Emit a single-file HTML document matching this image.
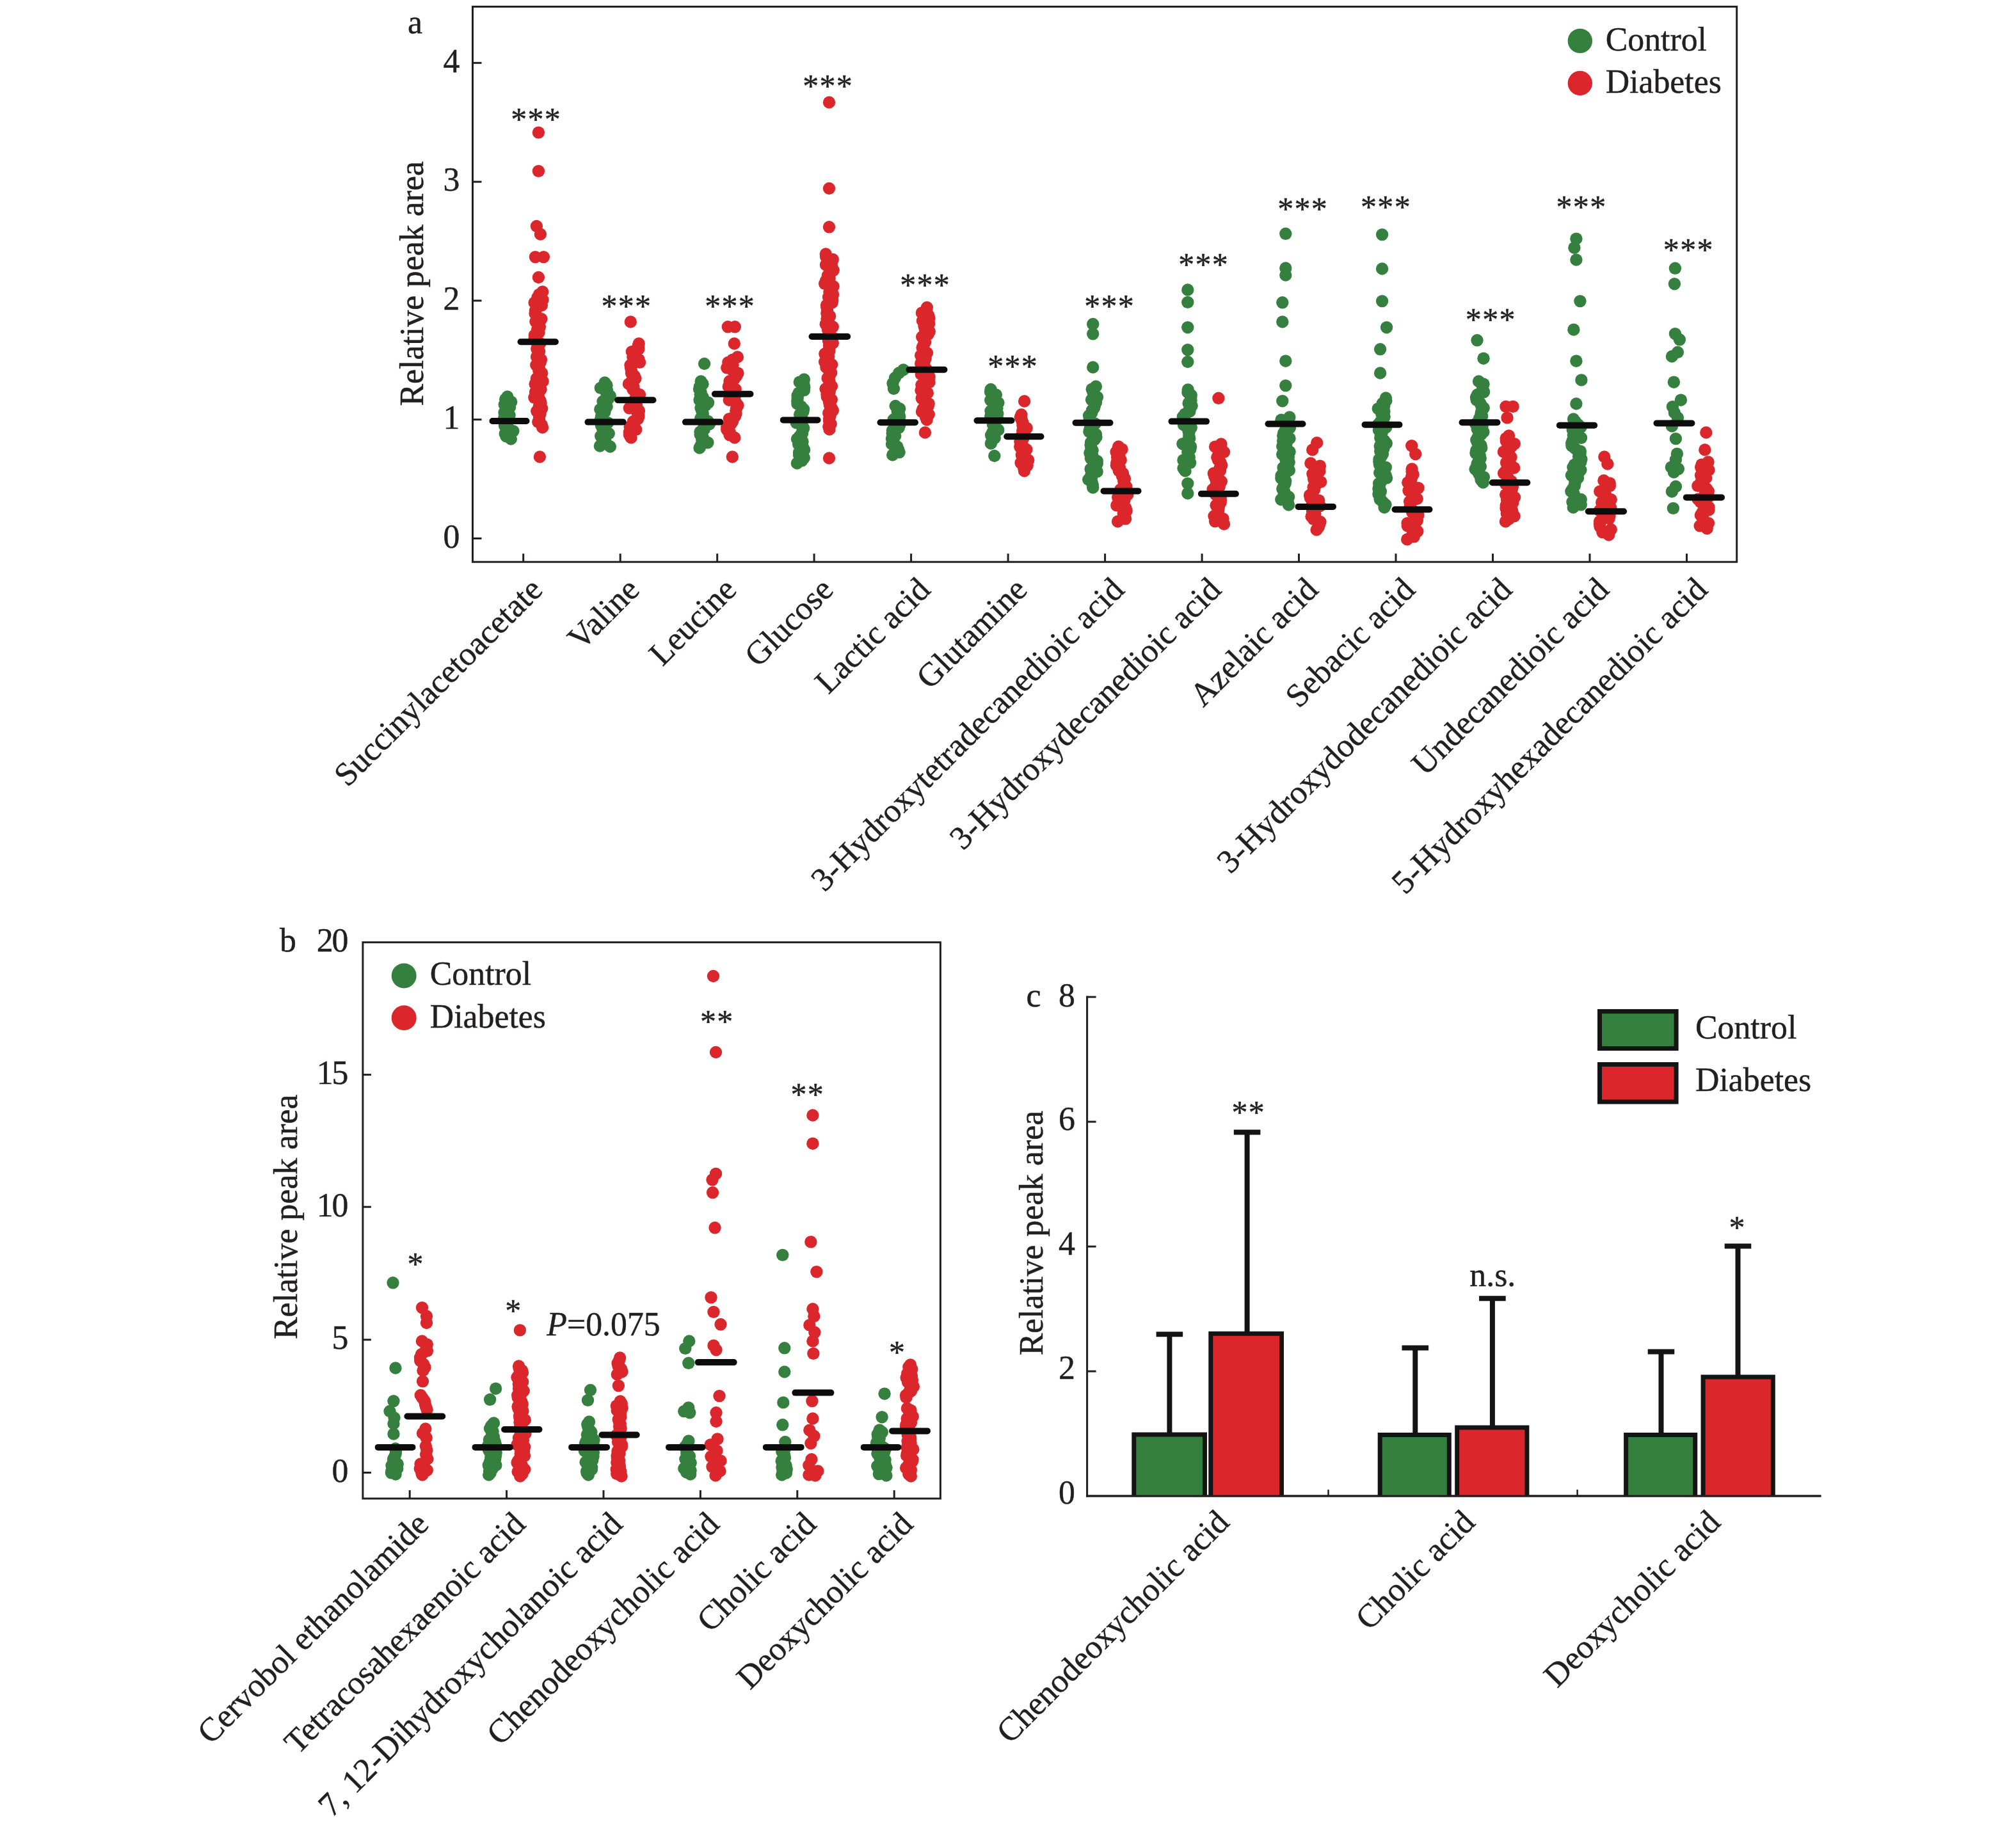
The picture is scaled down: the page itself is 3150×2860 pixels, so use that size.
<!DOCTYPE html>
<html><head><meta charset="utf-8"><title>Figure</title>
<style>
html,body{margin:0;padding:0;background:#fff;}
svg{display:block;}
text{font-family:"Liberation Serif","Times New Roman",serif;fill:#231f20;stroke:#231f20;stroke-width:0.45px;}
</style></head><body>
<svg width="3150" height="2860" viewBox="0 0 3150 2860">
<rect width="3150" height="2860" fill="#fff"/>
<rect x="738.5" y="10.4" width="1975.1999999999998" height="867.8000000000001" fill="none" stroke="#231f20" stroke-width="3"/>
<line x1="738.5" y1="841.5" x2="752.5" y2="841.5" stroke="#231f20" stroke-width="3"/>
<text x="718.5" y="855.7" text-anchor="end" font-size="51.8">0</text>
<line x1="738.5" y1="655.7" x2="752.5" y2="655.7" stroke="#231f20" stroke-width="3"/>
<text x="718.5" y="669.9" text-anchor="end" font-size="51.8">1</text>
<line x1="738.5" y1="469.9" x2="752.5" y2="469.9" stroke="#231f20" stroke-width="3"/>
<text x="718.5" y="484.1" text-anchor="end" font-size="51.8">2</text>
<line x1="738.5" y1="284.1" x2="752.5" y2="284.1" stroke="#231f20" stroke-width="3"/>
<text x="718.5" y="298.3" text-anchor="end" font-size="51.8">3</text>
<line x1="738.5" y1="98.3" x2="752.5" y2="98.3" stroke="#231f20" stroke-width="3"/>
<text x="718.5" y="112.5" text-anchor="end" font-size="51.8">4</text>
<line x1="817.7" y1="878.2" x2="817.7" y2="865.2" stroke="#231f20" stroke-width="3"/>
<line x1="969.2" y1="878.2" x2="969.2" y2="865.2" stroke="#231f20" stroke-width="3"/>
<line x1="1120.7" y1="878.2" x2="1120.7" y2="865.2" stroke="#231f20" stroke-width="3"/>
<line x1="1272.1" y1="878.2" x2="1272.1" y2="865.2" stroke="#231f20" stroke-width="3"/>
<line x1="1423.6" y1="878.2" x2="1423.6" y2="865.2" stroke="#231f20" stroke-width="3"/>
<line x1="1575.1" y1="878.2" x2="1575.1" y2="865.2" stroke="#231f20" stroke-width="3"/>
<line x1="1726.6" y1="878.2" x2="1726.6" y2="865.2" stroke="#231f20" stroke-width="3"/>
<line x1="1878.1" y1="878.2" x2="1878.1" y2="865.2" stroke="#231f20" stroke-width="3"/>
<line x1="2029.5" y1="878.2" x2="2029.5" y2="865.2" stroke="#231f20" stroke-width="3"/>
<line x1="2181.0" y1="878.2" x2="2181.0" y2="865.2" stroke="#231f20" stroke-width="3"/>
<line x1="2332.5" y1="878.2" x2="2332.5" y2="865.2" stroke="#231f20" stroke-width="3"/>
<line x1="2484.0" y1="878.2" x2="2484.0" y2="865.2" stroke="#231f20" stroke-width="3"/>
<line x1="2635.5" y1="878.2" x2="2635.5" y2="865.2" stroke="#231f20" stroke-width="3"/>
<text x="637.0" y="52.0" text-anchor="start" font-size="51.8">a</text>
<text x="660.7" y="443.2" text-anchor="middle" font-size="51.8" transform="rotate(-90 660.7 443.2)">Relative peak area</text>
<text x="850.2" y="924.5" text-anchor="end" font-size="51.8" transform="rotate(-45 850.2 924.5)">Succinylacetoacetate</text>
<text x="1001.7" y="924.5" text-anchor="end" font-size="51.8" transform="rotate(-45 1001.7 924.5)">Valine</text>
<text x="1153.2" y="924.5" text-anchor="end" font-size="51.8" transform="rotate(-45 1153.2 924.5)">Leucine</text>
<text x="1304.6" y="924.5" text-anchor="end" font-size="51.8" transform="rotate(-45 1304.6 924.5)">Glucose</text>
<text x="1456.1" y="924.5" text-anchor="end" font-size="51.8" transform="rotate(-45 1456.1 924.5)">Lactic acid</text>
<text x="1607.6" y="924.5" text-anchor="end" font-size="51.8" transform="rotate(-45 1607.6 924.5)">Glutamine</text>
<text x="1759.1" y="924.5" text-anchor="end" font-size="51.8" transform="rotate(-45 1759.1 924.5)">3-Hydroxytetradecanedioic acid</text>
<text x="1910.6" y="924.5" text-anchor="end" font-size="51.8" transform="rotate(-45 1910.6 924.5)">3-Hydroxydecanedioic acid</text>
<text x="2062.0" y="924.5" text-anchor="end" font-size="51.8" transform="rotate(-45 2062.0 924.5)">Azelaic acid</text>
<text x="2213.5" y="924.5" text-anchor="end" font-size="51.8" transform="rotate(-45 2213.5 924.5)">Sebacic acid</text>
<text x="2365.0" y="924.5" text-anchor="end" font-size="51.8" transform="rotate(-45 2365.0 924.5)">3-Hydroxydodecanedioic acid</text>
<text x="2516.5" y="924.5" text-anchor="end" font-size="51.8" transform="rotate(-45 2516.5 924.5)">Undecanedioic acid</text>
<text x="2670.5" y="924.5" text-anchor="end" font-size="51.8" transform="rotate(-45 2670.5 924.5)">5-Hydroxyhexadecanedioic acid</text>
<circle cx="2468.8" cy="63.9" r="19.2" fill="#36803f"/><circle cx="2468.8" cy="130" r="19.2" fill="#db272b"/>
<text x="2508.7" y="79.4" text-anchor="start" font-size="51.8">Control</text>
<text x="2508.7" y="145.4" text-anchor="start" font-size="51.8">Diabetes</text>
<g fill="#36803f"><circle cx="792.8" cy="620.0" r="9.7"/><circle cx="789.7" cy="624.1" r="9.7"/><circle cx="798.7" cy="628.2" r="9.7"/><circle cx="788.3" cy="632.4" r="9.7"/><circle cx="796.6" cy="636.5" r="9.7"/><circle cx="793.6" cy="640.6" r="9.7"/><circle cx="788.0" cy="644.8" r="9.7"/><circle cx="796.1" cy="648.9" r="9.7"/><circle cx="787.7" cy="653.0" r="9.7"/><circle cx="794.8" cy="657.1" r="9.7"/><circle cx="788.3" cy="661.2" r="9.7"/><circle cx="788.6" cy="665.4" r="9.7"/><circle cx="794.6" cy="669.5" r="9.7"/><circle cx="801.9" cy="673.6" r="9.7"/><circle cx="789.2" cy="677.8" r="9.7"/><circle cx="791.0" cy="681.9" r="9.7"/><circle cx="798.3" cy="686.0" r="9.7"/></g>
<g fill="#db272b"><circle cx="841.4" cy="207.1" r="9.7"/><circle cx="841.4" cy="267.4" r="9.7"/><circle cx="838.4" cy="353.5" r="9.7"/><circle cx="844.4" cy="366.0" r="9.7"/><circle cx="836.4" cy="401.6" r="9.7"/><circle cx="849.4" cy="401.6" r="9.7"/><circle cx="841.4" cy="433.5" r="9.7"/><circle cx="843.4" cy="714.0" r="9.7"/><circle cx="847.7" cy="456.0" r="9.7"/><circle cx="842.5" cy="460.2" r="9.7"/><circle cx="840.0" cy="464.5" r="9.7"/><circle cx="848.1" cy="468.7" r="9.7"/><circle cx="835.1" cy="473.0" r="9.7"/><circle cx="846.4" cy="477.2" r="9.7"/><circle cx="838.5" cy="481.4" r="9.7"/><circle cx="836.4" cy="485.7" r="9.7"/><circle cx="836.0" cy="489.9" r="9.7"/><circle cx="838.7" cy="494.2" r="9.7"/><circle cx="845.8" cy="498.4" r="9.7"/><circle cx="836.9" cy="502.6" r="9.7"/><circle cx="842.5" cy="506.9" r="9.7"/><circle cx="843.3" cy="511.1" r="9.7"/><circle cx="839.6" cy="515.4" r="9.7"/><circle cx="842.1" cy="519.6" r="9.7"/><circle cx="835.3" cy="523.8" r="9.7"/><circle cx="835.2" cy="528.1" r="9.7"/><circle cx="837.3" cy="532.3" r="9.7"/><circle cx="843.9" cy="536.6" r="9.7"/><circle cx="840.4" cy="540.8" r="9.7"/><circle cx="838.8" cy="545.0" r="9.7"/><circle cx="842.6" cy="549.3" r="9.7"/><circle cx="840.7" cy="553.5" r="9.7"/><circle cx="838.6" cy="557.8" r="9.7"/><circle cx="845.5" cy="562.0" r="9.7"/><circle cx="844.2" cy="566.2" r="9.7"/><circle cx="837.8" cy="570.5" r="9.7"/><circle cx="842.4" cy="574.7" r="9.7"/><circle cx="841.8" cy="579.0" r="9.7"/><circle cx="846.7" cy="583.2" r="9.7"/><circle cx="844.6" cy="587.4" r="9.7"/><circle cx="838.4" cy="591.7" r="9.7"/><circle cx="848.1" cy="595.9" r="9.7"/><circle cx="836.1" cy="600.2" r="9.7"/><circle cx="840.3" cy="604.4" r="9.7"/><circle cx="845.0" cy="608.6" r="9.7"/><circle cx="836.5" cy="612.9" r="9.7"/><circle cx="841.2" cy="617.1" r="9.7"/><circle cx="834.9" cy="621.4" r="9.7"/><circle cx="843.8" cy="625.6" r="9.7"/><circle cx="845.1" cy="629.8" r="9.7"/><circle cx="842.4" cy="634.1" r="9.7"/><circle cx="846.7" cy="638.3" r="9.7"/><circle cx="838.8" cy="642.6" r="9.7"/><circle cx="844.1" cy="646.8" r="9.7"/><circle cx="842.7" cy="651.0" r="9.7"/><circle cx="842.5" cy="655.3" r="9.7"/><circle cx="840.8" cy="659.5" r="9.7"/><circle cx="846.2" cy="663.8" r="9.7"/><circle cx="847.6" cy="668.0" r="9.7"/></g>
<line x1="769.5" y1="658.0" x2="822.5" y2="658.0" stroke="#0c0c0c" stroke-width="10" stroke-linecap="round"/>
<line x1="813.5" y1="534.3" x2="867.9" y2="534.3" stroke="#0c0c0c" stroke-width="10" stroke-linecap="round"/>
<text x="837.6" y="203.2" text-anchor="middle" font-size="50" letter-spacing="1.3" stroke="#231f20" stroke-width="0.5">***</text>
<g fill="#36803f"><circle cx="937.4" cy="697.0" r="9.7"/><circle cx="953.4" cy="698.0" r="9.7"/><circle cx="945.0" cy="598.0" r="9.7"/><circle cx="948.0" cy="602.2" r="9.7"/><circle cx="938.4" cy="606.4" r="9.7"/><circle cx="948.6" cy="610.5" r="9.7"/><circle cx="947.8" cy="614.7" r="9.7"/><circle cx="953.3" cy="618.9" r="9.7"/><circle cx="950.6" cy="623.1" r="9.7"/><circle cx="942.0" cy="627.3" r="9.7"/><circle cx="943.6" cy="631.5" r="9.7"/><circle cx="948.1" cy="635.6" r="9.7"/><circle cx="937.8" cy="639.8" r="9.7"/><circle cx="944.8" cy="644.0" r="9.7"/><circle cx="940.1" cy="648.2" r="9.7"/><circle cx="939.3" cy="652.4" r="9.7"/><circle cx="938.3" cy="656.5" r="9.7"/><circle cx="949.7" cy="660.7" r="9.7"/><circle cx="939.5" cy="664.9" r="9.7"/><circle cx="941.4" cy="669.1" r="9.7"/><circle cx="943.7" cy="673.3" r="9.7"/><circle cx="951.3" cy="677.5" r="9.7"/><circle cx="938.7" cy="681.6" r="9.7"/><circle cx="944.6" cy="685.8" r="9.7"/><circle cx="946.2" cy="690.0" r="9.7"/></g>
<g fill="#db272b"><circle cx="985.3" cy="503.0" r="9.7"/><circle cx="998.2" cy="537.0" r="9.7"/><circle cx="997.0" cy="541.2" r="9.7"/><circle cx="997.9" cy="545.4" r="9.7"/><circle cx="987.3" cy="549.6" r="9.7"/><circle cx="989.8" cy="553.8" r="9.7"/><circle cx="988.8" cy="558.0" r="9.7"/><circle cx="998.2" cy="562.2" r="9.7"/><circle cx="999.5" cy="566.4" r="9.7"/><circle cx="985.0" cy="570.6" r="9.7"/><circle cx="985.5" cy="574.8" r="9.7"/><circle cx="986.5" cy="579.0" r="9.7"/><circle cx="986.5" cy="583.2" r="9.7"/><circle cx="991.0" cy="587.4" r="9.7"/><circle cx="992.9" cy="591.6" r="9.7"/><circle cx="987.0" cy="595.8" r="9.7"/><circle cx="982.4" cy="600.0" r="9.7"/><circle cx="989.8" cy="604.2" r="9.7"/><circle cx="988.9" cy="608.4" r="9.7"/><circle cx="992.5" cy="612.6" r="9.7"/><circle cx="999.5" cy="616.8" r="9.7"/><circle cx="994.7" cy="621.0" r="9.7"/><circle cx="991.6" cy="625.2" r="9.7"/><circle cx="993.4" cy="629.4" r="9.7"/><circle cx="994.5" cy="633.6" r="9.7"/><circle cx="983.3" cy="637.8" r="9.7"/><circle cx="998.5" cy="642.0" r="9.7"/><circle cx="996.3" cy="646.2" r="9.7"/><circle cx="998.0" cy="650.4" r="9.7"/><circle cx="996.7" cy="654.6" r="9.7"/><circle cx="989.4" cy="658.8" r="9.7"/><circle cx="989.5" cy="663.0" r="9.7"/><circle cx="984.2" cy="667.2" r="9.7"/><circle cx="993.7" cy="671.4" r="9.7"/><circle cx="983.4" cy="675.6" r="9.7"/><circle cx="983.5" cy="679.8" r="9.7"/><circle cx="986.1" cy="684.0" r="9.7"/></g>
<line x1="918.5" y1="659.6" x2="973.7" y2="659.6" stroke="#0c0c0c" stroke-width="10" stroke-linecap="round"/>
<line x1="965.2" y1="625.3" x2="1020.5" y2="625.3" stroke="#0c0c0c" stroke-width="10" stroke-linecap="round"/>
<text x="978.9" y="494.8" text-anchor="middle" font-size="50" letter-spacing="1.3" stroke="#231f20" stroke-width="0.5">***</text>
<g fill="#36803f"><circle cx="1100.6" cy="568.5" r="9.7"/><circle cx="1095.2" cy="596.0" r="9.7"/><circle cx="1098.0" cy="600.2" r="9.7"/><circle cx="1093.4" cy="604.3" r="9.7"/><circle cx="1092.6" cy="608.5" r="9.7"/><circle cx="1095.0" cy="612.6" r="9.7"/><circle cx="1094.2" cy="616.8" r="9.7"/><circle cx="1098.4" cy="621.0" r="9.7"/><circle cx="1093.0" cy="625.1" r="9.7"/><circle cx="1106.6" cy="629.3" r="9.7"/><circle cx="1102.4" cy="633.4" r="9.7"/><circle cx="1095.0" cy="637.6" r="9.7"/><circle cx="1096.6" cy="641.8" r="9.7"/><circle cx="1098.2" cy="645.9" r="9.7"/><circle cx="1098.4" cy="650.1" r="9.7"/><circle cx="1094.6" cy="654.2" r="9.7"/><circle cx="1106.2" cy="658.4" r="9.7"/><circle cx="1108.5" cy="662.6" r="9.7"/><circle cx="1100.1" cy="666.7" r="9.7"/><circle cx="1100.3" cy="670.9" r="9.7"/><circle cx="1094.0" cy="675.0" r="9.7"/><circle cx="1094.2" cy="679.2" r="9.7"/><circle cx="1098.1" cy="683.4" r="9.7"/><circle cx="1096.8" cy="687.5" r="9.7"/><circle cx="1105.9" cy="691.7" r="9.7"/><circle cx="1095.2" cy="695.8" r="9.7"/><circle cx="1093.0" cy="700.0" r="9.7"/></g>
<g fill="#db272b"><circle cx="1137.3" cy="510.8" r="9.7"/><circle cx="1148.3" cy="510.8" r="9.7"/><circle cx="1147.3" cy="537.0" r="9.7"/><circle cx="1144.3" cy="714.0" r="9.7"/><circle cx="1152.4" cy="558.0" r="9.7"/><circle cx="1144.8" cy="562.2" r="9.7"/><circle cx="1137.9" cy="566.4" r="9.7"/><circle cx="1145.1" cy="570.6" r="9.7"/><circle cx="1135.8" cy="574.8" r="9.7"/><circle cx="1144.8" cy="579.0" r="9.7"/><circle cx="1152.9" cy="583.2" r="9.7"/><circle cx="1150.8" cy="587.4" r="9.7"/><circle cx="1147.8" cy="591.6" r="9.7"/><circle cx="1140.0" cy="595.8" r="9.7"/><circle cx="1141.9" cy="600.0" r="9.7"/><circle cx="1138.3" cy="604.2" r="9.7"/><circle cx="1149.2" cy="608.4" r="9.7"/><circle cx="1144.9" cy="612.6" r="9.7"/><circle cx="1149.3" cy="616.8" r="9.7"/><circle cx="1141.2" cy="621.0" r="9.7"/><circle cx="1139.3" cy="625.2" r="9.7"/><circle cx="1149.9" cy="629.4" r="9.7"/><circle cx="1153.0" cy="633.6" r="9.7"/><circle cx="1150.6" cy="637.8" r="9.7"/><circle cx="1149.8" cy="642.0" r="9.7"/><circle cx="1150.0" cy="646.2" r="9.7"/><circle cx="1148.6" cy="650.4" r="9.7"/><circle cx="1139.4" cy="654.6" r="9.7"/><circle cx="1144.6" cy="658.8" r="9.7"/><circle cx="1141.7" cy="663.0" r="9.7"/><circle cx="1135.8" cy="667.2" r="9.7"/><circle cx="1135.8" cy="671.4" r="9.7"/><circle cx="1140.3" cy="675.6" r="9.7"/><circle cx="1140.0" cy="679.8" r="9.7"/><circle cx="1147.8" cy="684.0" r="9.7"/></g>
<line x1="1071.0" y1="659.6" x2="1125.4" y2="659.6" stroke="#0c0c0c" stroke-width="10" stroke-linecap="round"/>
<line x1="1116.9" y1="615.7" x2="1172.5" y2="615.7" stroke="#0c0c0c" stroke-width="10" stroke-linecap="round"/>
<text x="1140.6" y="494.8" text-anchor="middle" font-size="50" letter-spacing="1.3" stroke="#231f20" stroke-width="0.5">***</text>
<g fill="#36803f"><circle cx="1256.4" cy="593.0" r="9.7"/><circle cx="1249.3" cy="597.2" r="9.7"/><circle cx="1256.1" cy="601.5" r="9.7"/><circle cx="1256.8" cy="605.7" r="9.7"/><circle cx="1256.4" cy="609.9" r="9.7"/><circle cx="1248.1" cy="614.1" r="9.7"/><circle cx="1246.1" cy="618.4" r="9.7"/><circle cx="1246.2" cy="622.6" r="9.7"/><circle cx="1245.8" cy="626.8" r="9.7"/><circle cx="1245.9" cy="631.0" r="9.7"/><circle cx="1251.7" cy="635.3" r="9.7"/><circle cx="1255.6" cy="639.5" r="9.7"/><circle cx="1254.8" cy="643.7" r="9.7"/><circle cx="1249.7" cy="647.9" r="9.7"/><circle cx="1252.1" cy="652.2" r="9.7"/><circle cx="1254.2" cy="656.4" r="9.7"/><circle cx="1244.2" cy="660.6" r="9.7"/><circle cx="1252.2" cy="664.8" r="9.7"/><circle cx="1255.7" cy="669.1" r="9.7"/><circle cx="1254.0" cy="673.3" r="9.7"/><circle cx="1253.5" cy="677.5" r="9.7"/><circle cx="1249.7" cy="681.7" r="9.7"/><circle cx="1245.5" cy="686.0" r="9.7"/><circle cx="1254.0" cy="690.2" r="9.7"/><circle cx="1247.7" cy="694.4" r="9.7"/><circle cx="1254.2" cy="698.6" r="9.7"/><circle cx="1256.6" cy="702.9" r="9.7"/><circle cx="1248.5" cy="707.1" r="9.7"/><circle cx="1248.6" cy="711.3" r="9.7"/><circle cx="1256.3" cy="715.5" r="9.7"/><circle cx="1253.1" cy="719.8" r="9.7"/><circle cx="1245.4" cy="724.0" r="9.7"/></g>
<g fill="#db272b"><circle cx="1295.5" cy="160.0" r="9.7"/><circle cx="1295.5" cy="294.5" r="9.7"/><circle cx="1295.5" cy="354.8" r="9.7"/><circle cx="1295.5" cy="716.0" r="9.7"/><circle cx="1290.3" cy="397.0" r="9.7"/><circle cx="1290.6" cy="401.2" r="9.7"/><circle cx="1301.2" cy="405.4" r="9.7"/><circle cx="1299.8" cy="409.6" r="9.7"/><circle cx="1290.5" cy="413.9" r="9.7"/><circle cx="1300.1" cy="418.1" r="9.7"/><circle cx="1302.2" cy="422.3" r="9.7"/><circle cx="1297.7" cy="426.5" r="9.7"/><circle cx="1293.4" cy="430.7" r="9.7"/><circle cx="1296.2" cy="434.9" r="9.7"/><circle cx="1290.3" cy="439.2" r="9.7"/><circle cx="1288.7" cy="443.4" r="9.7"/><circle cx="1302.1" cy="447.6" r="9.7"/><circle cx="1297.6" cy="451.8" r="9.7"/><circle cx="1295.9" cy="456.0" r="9.7"/><circle cx="1301.6" cy="460.2" r="9.7"/><circle cx="1294.6" cy="464.4" r="9.7"/><circle cx="1300.7" cy="468.7" r="9.7"/><circle cx="1300.1" cy="472.9" r="9.7"/><circle cx="1291.5" cy="477.1" r="9.7"/><circle cx="1292.0" cy="481.3" r="9.7"/><circle cx="1292.6" cy="485.5" r="9.7"/><circle cx="1291.9" cy="489.7" r="9.7"/><circle cx="1296.7" cy="494.0" r="9.7"/><circle cx="1292.1" cy="498.2" r="9.7"/><circle cx="1294.4" cy="502.4" r="9.7"/><circle cx="1290.3" cy="506.6" r="9.7"/><circle cx="1301.2" cy="510.8" r="9.7"/><circle cx="1293.5" cy="515.0" r="9.7"/><circle cx="1294.9" cy="519.2" r="9.7"/><circle cx="1296.7" cy="523.5" r="9.7"/><circle cx="1301.2" cy="527.7" r="9.7"/><circle cx="1294.4" cy="531.9" r="9.7"/><circle cx="1301.3" cy="536.1" r="9.7"/><circle cx="1295.5" cy="540.3" r="9.7"/><circle cx="1295.9" cy="544.5" r="9.7"/><circle cx="1295.8" cy="548.8" r="9.7"/><circle cx="1288.8" cy="553.0" r="9.7"/><circle cx="1294.7" cy="557.2" r="9.7"/><circle cx="1291.1" cy="561.4" r="9.7"/><circle cx="1288.6" cy="565.6" r="9.7"/><circle cx="1299.7" cy="569.8" r="9.7"/><circle cx="1290.9" cy="574.0" r="9.7"/><circle cx="1295.1" cy="578.3" r="9.7"/><circle cx="1298.7" cy="582.5" r="9.7"/><circle cx="1296.3" cy="586.7" r="9.7"/><circle cx="1293.1" cy="590.9" r="9.7"/><circle cx="1295.8" cy="595.1" r="9.7"/><circle cx="1296.3" cy="599.3" r="9.7"/><circle cx="1299.5" cy="603.6" r="9.7"/><circle cx="1290.0" cy="607.8" r="9.7"/><circle cx="1296.3" cy="612.0" r="9.7"/><circle cx="1292.0" cy="616.2" r="9.7"/><circle cx="1292.4" cy="620.4" r="9.7"/><circle cx="1299.3" cy="624.6" r="9.7"/><circle cx="1295.6" cy="628.8" r="9.7"/><circle cx="1296.4" cy="633.1" r="9.7"/><circle cx="1299.1" cy="637.3" r="9.7"/><circle cx="1301.3" cy="641.5" r="9.7"/><circle cx="1294.7" cy="645.7" r="9.7"/><circle cx="1297.1" cy="649.9" r="9.7"/><circle cx="1295.6" cy="654.1" r="9.7"/><circle cx="1295.7" cy="658.4" r="9.7"/><circle cx="1298.2" cy="662.6" r="9.7"/><circle cx="1294.8" cy="666.8" r="9.7"/><circle cx="1296.0" cy="671.0" r="9.7"/></g>
<line x1="1223.8" y1="656.4" x2="1277.5" y2="656.4" stroke="#0c0c0c" stroke-width="10" stroke-linecap="round"/>
<line x1="1268.5" y1="526.0" x2="1324.2" y2="526.0" stroke="#0c0c0c" stroke-width="10" stroke-linecap="round"/>
<text x="1293.7" y="150.8" text-anchor="middle" font-size="50" letter-spacing="1.3" stroke="#231f20" stroke-width="0.5">***</text>
<g fill="#36803f"><circle cx="1411.5" cy="578.0" r="9.7"/><circle cx="1404.5" cy="583.0" r="9.7"/><circle cx="1398.5" cy="590.5" r="9.7"/><circle cx="1395.0" cy="599.0" r="9.7"/><circle cx="1396.5" cy="607.5" r="9.7"/><circle cx="1399.2" cy="634.5" r="9.7"/><circle cx="1405.7" cy="638.8" r="9.7"/><circle cx="1402.3" cy="643.0" r="9.7"/><circle cx="1404.8" cy="647.2" r="9.7"/><circle cx="1405.7" cy="651.5" r="9.7"/><circle cx="1396.1" cy="655.8" r="9.7"/><circle cx="1400.3" cy="660.0" r="9.7"/><circle cx="1405.7" cy="664.2" r="9.7"/><circle cx="1404.3" cy="668.5" r="9.7"/><circle cx="1394.4" cy="672.8" r="9.7"/><circle cx="1394.2" cy="677.0" r="9.7"/><circle cx="1398.7" cy="681.2" r="9.7"/><circle cx="1393.5" cy="685.5" r="9.7"/><circle cx="1395.9" cy="689.8" r="9.7"/><circle cx="1393.5" cy="694.0" r="9.7"/><circle cx="1401.9" cy="698.2" r="9.7"/><circle cx="1403.5" cy="702.5" r="9.7"/><circle cx="1405.1" cy="706.8" r="9.7"/><circle cx="1394.7" cy="711.0" r="9.7"/></g>
<g fill="#db272b"><circle cx="1445.4" cy="676.0" r="9.7"/><circle cx="1448.4" cy="480.5" r="9.7"/><circle cx="1447.6" cy="484.7" r="9.7"/><circle cx="1440.4" cy="488.9" r="9.7"/><circle cx="1450.8" cy="493.0" r="9.7"/><circle cx="1451.9" cy="497.2" r="9.7"/><circle cx="1441.5" cy="501.4" r="9.7"/><circle cx="1451.7" cy="505.6" r="9.7"/><circle cx="1444.0" cy="509.8" r="9.7"/><circle cx="1445.2" cy="513.9" r="9.7"/><circle cx="1452.3" cy="518.1" r="9.7"/><circle cx="1450.1" cy="522.3" r="9.7"/><circle cx="1440.7" cy="526.5" r="9.7"/><circle cx="1444.4" cy="530.6" r="9.7"/><circle cx="1445.6" cy="534.8" r="9.7"/><circle cx="1443.1" cy="539.0" r="9.7"/><circle cx="1441.1" cy="543.2" r="9.7"/><circle cx="1442.9" cy="547.4" r="9.7"/><circle cx="1448.5" cy="551.5" r="9.7"/><circle cx="1438.7" cy="555.7" r="9.7"/><circle cx="1446.2" cy="559.9" r="9.7"/><circle cx="1444.6" cy="564.1" r="9.7"/><circle cx="1438.7" cy="568.2" r="9.7"/><circle cx="1443.0" cy="572.4" r="9.7"/><circle cx="1447.1" cy="576.6" r="9.7"/><circle cx="1445.6" cy="580.8" r="9.7"/><circle cx="1439.3" cy="585.0" r="9.7"/><circle cx="1452.2" cy="589.1" r="9.7"/><circle cx="1449.4" cy="593.3" r="9.7"/><circle cx="1452.0" cy="597.5" r="9.7"/><circle cx="1439.9" cy="601.7" r="9.7"/><circle cx="1442.1" cy="605.9" r="9.7"/><circle cx="1439.0" cy="610.0" r="9.7"/><circle cx="1449.3" cy="614.2" r="9.7"/><circle cx="1442.2" cy="618.4" r="9.7"/><circle cx="1440.2" cy="622.6" r="9.7"/><circle cx="1444.3" cy="626.8" r="9.7"/><circle cx="1451.2" cy="630.9" r="9.7"/><circle cx="1449.9" cy="635.1" r="9.7"/><circle cx="1442.0" cy="639.3" r="9.7"/><circle cx="1440.5" cy="643.5" r="9.7"/><circle cx="1451.3" cy="647.6" r="9.7"/><circle cx="1446.4" cy="651.8" r="9.7"/><circle cx="1448.2" cy="656.0" r="9.7"/></g>
<line x1="1375.5" y1="660.3" x2="1430.0" y2="660.3" stroke="#0c0c0c" stroke-width="10" stroke-linecap="round"/>
<line x1="1420.5" y1="577.7" x2="1475.5" y2="577.7" stroke="#0c0c0c" stroke-width="10" stroke-linecap="round"/>
<text x="1445.7" y="462.4" text-anchor="middle" font-size="50" letter-spacing="1.3" stroke="#231f20" stroke-width="0.5">***</text>
<g fill="#36803f"><circle cx="1553.8" cy="712.5" r="9.7"/><circle cx="1548.1" cy="608.5" r="9.7"/><circle cx="1547.6" cy="612.7" r="9.7"/><circle cx="1556.4" cy="617.0" r="9.7"/><circle cx="1552.8" cy="621.2" r="9.7"/><circle cx="1547.8" cy="625.4" r="9.7"/><circle cx="1559.9" cy="629.6" r="9.7"/><circle cx="1555.7" cy="633.9" r="9.7"/><circle cx="1558.0" cy="638.1" r="9.7"/><circle cx="1548.0" cy="642.3" r="9.7"/><circle cx="1558.8" cy="646.5" r="9.7"/><circle cx="1547.7" cy="650.8" r="9.7"/><circle cx="1558.9" cy="655.0" r="9.7"/><circle cx="1553.2" cy="659.2" r="9.7"/><circle cx="1551.5" cy="663.4" r="9.7"/><circle cx="1554.5" cy="667.6" r="9.7"/><circle cx="1559.8" cy="671.9" r="9.7"/><circle cx="1550.6" cy="676.1" r="9.7"/><circle cx="1548.6" cy="680.3" r="9.7"/><circle cx="1554.2" cy="684.5" r="9.7"/><circle cx="1550.1" cy="688.8" r="9.7"/><circle cx="1548.3" cy="693.0" r="9.7"/></g>
<g fill="#db272b"><circle cx="1600.6" cy="627.0" r="9.7"/><circle cx="1595.9" cy="648.0" r="9.7"/><circle cx="1594.3" cy="652.2" r="9.7"/><circle cx="1596.4" cy="656.4" r="9.7"/><circle cx="1598.0" cy="660.6" r="9.7"/><circle cx="1597.9" cy="664.8" r="9.7"/><circle cx="1604.2" cy="669.0" r="9.7"/><circle cx="1597.7" cy="673.1" r="9.7"/><circle cx="1600.6" cy="677.3" r="9.7"/><circle cx="1596.1" cy="681.5" r="9.7"/><circle cx="1598.5" cy="685.7" r="9.7"/><circle cx="1593.9" cy="689.9" r="9.7"/><circle cx="1597.1" cy="694.1" r="9.7"/><circle cx="1593.8" cy="698.3" r="9.7"/><circle cx="1603.9" cy="702.5" r="9.7"/><circle cx="1601.3" cy="706.7" r="9.7"/><circle cx="1596.3" cy="710.9" r="9.7"/><circle cx="1600.2" cy="715.0" r="9.7"/><circle cx="1606.7" cy="719.2" r="9.7"/><circle cx="1595.1" cy="723.4" r="9.7"/><circle cx="1605.1" cy="727.6" r="9.7"/><circle cx="1599.7" cy="731.8" r="9.7"/><circle cx="1600.5" cy="736.0" r="9.7"/></g>
<line x1="1526.5" y1="657.3" x2="1580.5" y2="657.3" stroke="#0c0c0c" stroke-width="10" stroke-linecap="round"/>
<line x1="1573.2" y1="682.2" x2="1626.5" y2="682.2" stroke="#0c0c0c" stroke-width="10" stroke-linecap="round"/>
<text x="1582.7" y="589.4" text-anchor="middle" font-size="50" letter-spacing="1.3" stroke="#231f20" stroke-width="0.5">***</text>
<g fill="#36803f"><circle cx="1707.7" cy="506.5" r="9.7"/><circle cx="1707.7" cy="521.8" r="9.7"/><circle cx="1707.7" cy="574.0" r="9.7"/><circle cx="1712.4" cy="604.0" r="9.7"/><circle cx="1706.2" cy="608.2" r="9.7"/><circle cx="1707.8" cy="612.3" r="9.7"/><circle cx="1710.3" cy="616.5" r="9.7"/><circle cx="1714.5" cy="620.6" r="9.7"/><circle cx="1705.5" cy="624.8" r="9.7"/><circle cx="1712.4" cy="628.9" r="9.7"/><circle cx="1710.6" cy="633.1" r="9.7"/><circle cx="1709.6" cy="637.3" r="9.7"/><circle cx="1706.4" cy="641.4" r="9.7"/><circle cx="1705.6" cy="645.6" r="9.7"/><circle cx="1701.5" cy="649.7" r="9.7"/><circle cx="1702.5" cy="653.9" r="9.7"/><circle cx="1701.7" cy="658.1" r="9.7"/><circle cx="1711.1" cy="662.2" r="9.7"/><circle cx="1704.3" cy="666.4" r="9.7"/><circle cx="1703.0" cy="670.5" r="9.7"/><circle cx="1701.9" cy="674.7" r="9.7"/><circle cx="1712.5" cy="678.8" r="9.7"/><circle cx="1712.9" cy="683.0" r="9.7"/><circle cx="1710.1" cy="687.2" r="9.7"/><circle cx="1704.6" cy="691.3" r="9.7"/><circle cx="1704.1" cy="695.5" r="9.7"/><circle cx="1704.8" cy="699.6" r="9.7"/><circle cx="1707.1" cy="703.8" r="9.7"/><circle cx="1702.9" cy="707.9" r="9.7"/><circle cx="1706.9" cy="712.1" r="9.7"/><circle cx="1704.4" cy="716.3" r="9.7"/><circle cx="1714.2" cy="720.4" r="9.7"/><circle cx="1714.3" cy="724.6" r="9.7"/><circle cx="1708.4" cy="728.7" r="9.7"/><circle cx="1704.1" cy="732.9" r="9.7"/><circle cx="1714.2" cy="737.1" r="9.7"/><circle cx="1705.0" cy="741.2" r="9.7"/><circle cx="1705.7" cy="745.4" r="9.7"/><circle cx="1700.7" cy="749.5" r="9.7"/><circle cx="1706.0" cy="753.7" r="9.7"/><circle cx="1707.3" cy="757.8" r="9.7"/><circle cx="1707.7" cy="762.0" r="9.7"/></g>
<g fill="#db272b"><circle cx="1747.6" cy="698.0" r="9.7"/><circle cx="1753.1" cy="702.2" r="9.7"/><circle cx="1744.1" cy="706.4" r="9.7"/><circle cx="1748.8" cy="710.5" r="9.7"/><circle cx="1745.6" cy="714.7" r="9.7"/><circle cx="1751.2" cy="718.9" r="9.7"/><circle cx="1744.8" cy="723.1" r="9.7"/><circle cx="1744.4" cy="727.2" r="9.7"/><circle cx="1749.5" cy="731.4" r="9.7"/><circle cx="1748.2" cy="735.6" r="9.7"/><circle cx="1754.5" cy="739.8" r="9.7"/><circle cx="1753.5" cy="744.0" r="9.7"/><circle cx="1757.5" cy="748.1" r="9.7"/><circle cx="1755.8" cy="752.3" r="9.7"/><circle cx="1756.9" cy="756.5" r="9.7"/><circle cx="1759.8" cy="760.7" r="9.7"/><circle cx="1751.0" cy="764.9" r="9.7"/><circle cx="1749.9" cy="769.0" r="9.7"/><circle cx="1761.7" cy="773.2" r="9.7"/><circle cx="1746.7" cy="777.4" r="9.7"/><circle cx="1757.0" cy="781.6" r="9.7"/><circle cx="1755.6" cy="785.8" r="9.7"/><circle cx="1744.8" cy="789.9" r="9.7"/><circle cx="1759.0" cy="794.1" r="9.7"/><circle cx="1760.1" cy="798.3" r="9.7"/><circle cx="1755.3" cy="802.5" r="9.7"/><circle cx="1757.2" cy="806.6" r="9.7"/><circle cx="1758.6" cy="810.8" r="9.7"/><circle cx="1746.5" cy="815.0" r="9.7"/></g>
<line x1="1680.5" y1="660.7" x2="1734.5" y2="660.7" stroke="#0c0c0c" stroke-width="10" stroke-linecap="round"/>
<line x1="1724.5" y1="767.4" x2="1778.5" y2="767.4" stroke="#0c0c0c" stroke-width="10" stroke-linecap="round"/>
<text x="1733.7" y="494.8" text-anchor="middle" font-size="50" letter-spacing="1.3" stroke="#231f20" stroke-width="0.5">***</text>
<g fill="#36803f"><circle cx="1855.8" cy="453.0" r="9.7"/><circle cx="1855.8" cy="472.4" r="9.7"/><circle cx="1855.8" cy="511.7" r="9.7"/><circle cx="1855.8" cy="546.7" r="9.7"/><circle cx="1855.8" cy="565.5" r="9.7"/><circle cx="1855.8" cy="755.6" r="9.7"/><circle cx="1855.8" cy="771.0" r="9.7"/><circle cx="1856.2" cy="609.0" r="9.7"/><circle cx="1855.9" cy="613.2" r="9.7"/><circle cx="1861.2" cy="617.5" r="9.7"/><circle cx="1860.7" cy="621.7" r="9.7"/><circle cx="1861.0" cy="625.9" r="9.7"/><circle cx="1857.1" cy="630.2" r="9.7"/><circle cx="1862.1" cy="634.4" r="9.7"/><circle cx="1858.7" cy="638.6" r="9.7"/><circle cx="1858.9" cy="642.9" r="9.7"/><circle cx="1851.5" cy="647.1" r="9.7"/><circle cx="1848.3" cy="651.3" r="9.7"/><circle cx="1849.9" cy="655.6" r="9.7"/><circle cx="1853.6" cy="659.8" r="9.7"/><circle cx="1849.5" cy="664.0" r="9.7"/><circle cx="1861.2" cy="668.3" r="9.7"/><circle cx="1856.7" cy="672.5" r="9.7"/><circle cx="1857.8" cy="676.7" r="9.7"/><circle cx="1857.8" cy="681.0" r="9.7"/><circle cx="1858.7" cy="685.2" r="9.7"/><circle cx="1855.6" cy="689.4" r="9.7"/><circle cx="1847.9" cy="693.7" r="9.7"/><circle cx="1860.6" cy="697.9" r="9.7"/><circle cx="1859.8" cy="702.1" r="9.7"/><circle cx="1855.8" cy="706.4" r="9.7"/><circle cx="1856.4" cy="710.6" r="9.7"/><circle cx="1858.3" cy="714.8" r="9.7"/><circle cx="1848.9" cy="719.1" r="9.7"/><circle cx="1859.6" cy="723.3" r="9.7"/><circle cx="1851.8" cy="727.5" r="9.7"/><circle cx="1849.0" cy="731.8" r="9.7"/><circle cx="1852.0" cy="736.0" r="9.7"/></g>
<g fill="#db272b"><circle cx="1903.9" cy="622.3" r="9.7"/><circle cx="1908.0" cy="694.0" r="9.7"/><circle cx="1898.6" cy="698.2" r="9.7"/><circle cx="1908.2" cy="702.3" r="9.7"/><circle cx="1912.5" cy="706.5" r="9.7"/><circle cx="1903.8" cy="710.7" r="9.7"/><circle cx="1901.8" cy="714.8" r="9.7"/><circle cx="1903.5" cy="719.0" r="9.7"/><circle cx="1907.2" cy="723.2" r="9.7"/><circle cx="1908.7" cy="727.3" r="9.7"/><circle cx="1906.0" cy="731.5" r="9.7"/><circle cx="1906.5" cy="735.7" r="9.7"/><circle cx="1896.3" cy="739.8" r="9.7"/><circle cx="1897.6" cy="744.0" r="9.7"/><circle cx="1899.5" cy="748.2" r="9.7"/><circle cx="1908.3" cy="752.3" r="9.7"/><circle cx="1900.4" cy="756.5" r="9.7"/><circle cx="1905.1" cy="760.7" r="9.7"/><circle cx="1895.1" cy="764.8" r="9.7"/><circle cx="1896.0" cy="769.0" r="9.7"/><circle cx="1899.7" cy="773.2" r="9.7"/><circle cx="1907.0" cy="777.3" r="9.7"/><circle cx="1907.4" cy="781.5" r="9.7"/><circle cx="1907.1" cy="785.7" r="9.7"/><circle cx="1900.1" cy="789.8" r="9.7"/><circle cx="1904.2" cy="794.0" r="9.7"/><circle cx="1903.3" cy="798.2" r="9.7"/><circle cx="1903.3" cy="802.3" r="9.7"/><circle cx="1897.0" cy="806.5" r="9.7"/><circle cx="1911.0" cy="810.7" r="9.7"/><circle cx="1898.5" cy="814.8" r="9.7"/><circle cx="1912.5" cy="819.0" r="9.7"/></g>
<line x1="1830.5" y1="658.6" x2="1885.0" y2="658.6" stroke="#0c0c0c" stroke-width="10" stroke-linecap="round"/>
<line x1="1876.9" y1="771.8" x2="1930.9" y2="771.8" stroke="#0c0c0c" stroke-width="10" stroke-linecap="round"/>
<text x="1880.6" y="430.4" text-anchor="middle" font-size="50" letter-spacing="1.3" stroke="#231f20" stroke-width="0.5">***</text>
<g fill="#36803f"><circle cx="2008.8" cy="365.3" r="9.7"/><circle cx="2008.8" cy="419.0" r="9.7"/><circle cx="2008.8" cy="430.0" r="9.7"/><circle cx="2003.8" cy="472.8" r="9.7"/><circle cx="2003.8" cy="503.0" r="9.7"/><circle cx="2008.8" cy="564.2" r="9.7"/><circle cx="2008.8" cy="602.6" r="9.7"/><circle cx="2003.8" cy="626.7" r="9.7"/><circle cx="2014.9" cy="652.0" r="9.7"/><circle cx="2002.0" cy="656.2" r="9.7"/><circle cx="2008.2" cy="660.3" r="9.7"/><circle cx="2013.3" cy="664.5" r="9.7"/><circle cx="2015.4" cy="668.6" r="9.7"/><circle cx="2008.1" cy="672.8" r="9.7"/><circle cx="2005.6" cy="676.9" r="9.7"/><circle cx="2004.7" cy="681.1" r="9.7"/><circle cx="2015.0" cy="685.2" r="9.7"/><circle cx="2004.7" cy="689.4" r="9.7"/><circle cx="2009.9" cy="693.5" r="9.7"/><circle cx="2003.8" cy="697.7" r="9.7"/><circle cx="2009.1" cy="701.8" r="9.7"/><circle cx="2015.1" cy="706.0" r="9.7"/><circle cx="2003.7" cy="710.1" r="9.7"/><circle cx="2013.3" cy="714.3" r="9.7"/><circle cx="2008.9" cy="718.4" r="9.7"/><circle cx="2014.2" cy="722.6" r="9.7"/><circle cx="2011.6" cy="726.7" r="9.7"/><circle cx="2005.0" cy="730.9" r="9.7"/><circle cx="2014.4" cy="735.0" r="9.7"/><circle cx="2008.6" cy="739.2" r="9.7"/><circle cx="2002.1" cy="743.3" r="9.7"/><circle cx="2001.9" cy="747.5" r="9.7"/><circle cx="2008.7" cy="751.6" r="9.7"/><circle cx="2008.1" cy="755.8" r="9.7"/><circle cx="2006.0" cy="759.9" r="9.7"/><circle cx="2003.8" cy="764.1" r="9.7"/><circle cx="2006.6" cy="768.2" r="9.7"/><circle cx="2006.2" cy="772.4" r="9.7"/><circle cx="2013.6" cy="776.5" r="9.7"/><circle cx="2001.8" cy="780.7" r="9.7"/><circle cx="2012.3" cy="784.8" r="9.7"/><circle cx="2013.5" cy="789.0" r="9.7"/></g>
<g fill="#db272b"><circle cx="2057.7" cy="692.0" r="9.7"/><circle cx="2050.7" cy="703.0" r="9.7"/><circle cx="2047.9" cy="724.0" r="9.7"/><circle cx="2062.4" cy="728.2" r="9.7"/><circle cx="2058.5" cy="732.3" r="9.7"/><circle cx="2061.9" cy="736.5" r="9.7"/><circle cx="2050.9" cy="740.6" r="9.7"/><circle cx="2052.4" cy="744.8" r="9.7"/><circle cx="2052.8" cy="749.0" r="9.7"/><circle cx="2063.7" cy="753.1" r="9.7"/><circle cx="2056.3" cy="757.3" r="9.7"/><circle cx="2052.2" cy="761.4" r="9.7"/><circle cx="2053.4" cy="765.6" r="9.7"/><circle cx="2050.7" cy="769.8" r="9.7"/><circle cx="2046.6" cy="773.9" r="9.7"/><circle cx="2047.5" cy="778.1" r="9.7"/><circle cx="2060.7" cy="782.2" r="9.7"/><circle cx="2050.8" cy="786.4" r="9.7"/><circle cx="2062.5" cy="790.6" r="9.7"/><circle cx="2050.2" cy="794.7" r="9.7"/><circle cx="2050.5" cy="798.9" r="9.7"/><circle cx="2054.9" cy="803.0" r="9.7"/><circle cx="2049.1" cy="807.2" r="9.7"/><circle cx="2052.4" cy="811.4" r="9.7"/><circle cx="2062.9" cy="815.5" r="9.7"/><circle cx="2061.6" cy="819.7" r="9.7"/><circle cx="2060.3" cy="823.8" r="9.7"/><circle cx="2057.1" cy="828.0" r="9.7"/></g>
<line x1="1981.5" y1="662.5" x2="2035.5" y2="662.5" stroke="#0c0c0c" stroke-width="10" stroke-linecap="round"/>
<line x1="2028.5" y1="791.9" x2="2083.0" y2="791.9" stroke="#0c0c0c" stroke-width="10" stroke-linecap="round"/>
<text x="2035.7" y="343.1" text-anchor="middle" font-size="50" letter-spacing="1.3" stroke="#231f20" stroke-width="0.5">***</text>
<g fill="#36803f"><circle cx="2159.6" cy="366.6" r="9.7"/><circle cx="2159.6" cy="420.0" r="9.7"/><circle cx="2159.6" cy="470.6" r="9.7"/><circle cx="2166.6" cy="511.7" r="9.7"/><circle cx="2156.6" cy="545.8" r="9.7"/><circle cx="2156.6" cy="583.0" r="9.7"/><circle cx="2165.4" cy="622.0" r="9.7"/><circle cx="2165.8" cy="626.2" r="9.7"/><circle cx="2160.3" cy="630.3" r="9.7"/><circle cx="2162.7" cy="634.5" r="9.7"/><circle cx="2153.3" cy="638.7" r="9.7"/><circle cx="2162.9" cy="642.9" r="9.7"/><circle cx="2158.9" cy="647.0" r="9.7"/><circle cx="2163.1" cy="651.2" r="9.7"/><circle cx="2161.6" cy="655.4" r="9.7"/><circle cx="2156.6" cy="659.5" r="9.7"/><circle cx="2153.3" cy="663.7" r="9.7"/><circle cx="2165.6" cy="667.9" r="9.7"/><circle cx="2154.4" cy="672.0" r="9.7"/><circle cx="2159.2" cy="676.2" r="9.7"/><circle cx="2157.4" cy="680.4" r="9.7"/><circle cx="2156.8" cy="684.6" r="9.7"/><circle cx="2162.9" cy="688.7" r="9.7"/><circle cx="2166.3" cy="692.9" r="9.7"/><circle cx="2156.2" cy="697.1" r="9.7"/><circle cx="2161.8" cy="701.2" r="9.7"/><circle cx="2156.8" cy="705.4" r="9.7"/><circle cx="2160.4" cy="709.6" r="9.7"/><circle cx="2158.1" cy="713.8" r="9.7"/><circle cx="2154.9" cy="717.9" r="9.7"/><circle cx="2154.9" cy="722.1" r="9.7"/><circle cx="2155.5" cy="726.3" r="9.7"/><circle cx="2165.3" cy="730.4" r="9.7"/><circle cx="2159.6" cy="734.6" r="9.7"/><circle cx="2155.7" cy="738.8" r="9.7"/><circle cx="2165.3" cy="743.0" r="9.7"/><circle cx="2166.6" cy="747.1" r="9.7"/><circle cx="2158.9" cy="751.3" r="9.7"/><circle cx="2154.6" cy="755.5" r="9.7"/><circle cx="2155.3" cy="759.6" r="9.7"/><circle cx="2153.9" cy="763.8" r="9.7"/><circle cx="2157.4" cy="768.0" r="9.7"/><circle cx="2153.9" cy="772.1" r="9.7"/><circle cx="2155.9" cy="776.3" r="9.7"/><circle cx="2156.2" cy="780.5" r="9.7"/><circle cx="2160.6" cy="784.7" r="9.7"/><circle cx="2165.0" cy="788.8" r="9.7"/><circle cx="2163.1" cy="793.0" r="9.7"/></g>
<g fill="#db272b"><circle cx="2205.7" cy="696.6" r="9.7"/><circle cx="2211.7" cy="709.7" r="9.7"/><circle cx="2206.1" cy="733.0" r="9.7"/><circle cx="2206.1" cy="737.2" r="9.7"/><circle cx="2208.1" cy="741.5" r="9.7"/><circle cx="2205.5" cy="745.7" r="9.7"/><circle cx="2204.8" cy="749.9" r="9.7"/><circle cx="2199.8" cy="754.2" r="9.7"/><circle cx="2203.7" cy="758.4" r="9.7"/><circle cx="2216.1" cy="762.6" r="9.7"/><circle cx="2201.0" cy="766.8" r="9.7"/><circle cx="2207.8" cy="771.1" r="9.7"/><circle cx="2210.0" cy="775.3" r="9.7"/><circle cx="2214.2" cy="779.5" r="9.7"/><circle cx="2202.6" cy="783.8" r="9.7"/><circle cx="2203.6" cy="788.0" r="9.7"/><circle cx="2203.2" cy="792.2" r="9.7"/><circle cx="2205.9" cy="796.5" r="9.7"/><circle cx="2206.7" cy="800.7" r="9.7"/><circle cx="2215.9" cy="804.9" r="9.7"/><circle cx="2214.0" cy="809.2" r="9.7"/><circle cx="2214.4" cy="813.4" r="9.7"/><circle cx="2199.1" cy="817.6" r="9.7"/><circle cx="2199.3" cy="821.8" r="9.7"/><circle cx="2211.5" cy="826.1" r="9.7"/><circle cx="2214.8" cy="830.3" r="9.7"/><circle cx="2207.2" cy="834.5" r="9.7"/><circle cx="2209.3" cy="838.8" r="9.7"/><circle cx="2198.7" cy="843.0" r="9.7"/></g>
<line x1="2132.5" y1="663.8" x2="2186.5" y2="663.8" stroke="#0c0c0c" stroke-width="10" stroke-linecap="round"/>
<line x1="2179.5" y1="796.2" x2="2233.5" y2="796.2" stroke="#0c0c0c" stroke-width="10" stroke-linecap="round"/>
<text x="2165.5" y="339.6" text-anchor="middle" font-size="50" letter-spacing="1.3" stroke="#231f20" stroke-width="0.5">***</text>
<g fill="#36803f"><circle cx="2308.0" cy="531.8" r="9.7"/><circle cx="2318.0" cy="560.2" r="9.7"/><circle cx="2310.5" cy="596.0" r="9.7"/><circle cx="2318.0" cy="600.2" r="9.7"/><circle cx="2316.6" cy="604.3" r="9.7"/><circle cx="2317.0" cy="608.5" r="9.7"/><circle cx="2318.6" cy="612.6" r="9.7"/><circle cx="2308.5" cy="616.8" r="9.7"/><circle cx="2306.5" cy="620.9" r="9.7"/><circle cx="2307.2" cy="625.1" r="9.7"/><circle cx="2312.3" cy="629.3" r="9.7"/><circle cx="2314.5" cy="633.4" r="9.7"/><circle cx="2318.2" cy="637.6" r="9.7"/><circle cx="2315.1" cy="641.7" r="9.7"/><circle cx="2314.1" cy="645.9" r="9.7"/><circle cx="2315.7" cy="650.1" r="9.7"/><circle cx="2311.4" cy="654.2" r="9.7"/><circle cx="2312.7" cy="658.4" r="9.7"/><circle cx="2305.6" cy="662.5" r="9.7"/><circle cx="2316.0" cy="666.7" r="9.7"/><circle cx="2308.3" cy="670.8" r="9.7"/><circle cx="2317.9" cy="675.0" r="9.7"/><circle cx="2314.0" cy="679.2" r="9.7"/><circle cx="2309.3" cy="683.3" r="9.7"/><circle cx="2306.8" cy="687.5" r="9.7"/><circle cx="2308.5" cy="691.6" r="9.7"/><circle cx="2313.9" cy="695.8" r="9.7"/><circle cx="2314.8" cy="699.9" r="9.7"/><circle cx="2306.6" cy="704.1" r="9.7"/><circle cx="2306.0" cy="708.3" r="9.7"/><circle cx="2312.3" cy="712.4" r="9.7"/><circle cx="2313.2" cy="716.6" r="9.7"/><circle cx="2310.4" cy="720.7" r="9.7"/><circle cx="2308.1" cy="724.9" r="9.7"/><circle cx="2313.4" cy="729.1" r="9.7"/><circle cx="2305.1" cy="733.2" r="9.7"/><circle cx="2309.2" cy="737.4" r="9.7"/><circle cx="2311.4" cy="741.5" r="9.7"/><circle cx="2318.4" cy="745.7" r="9.7"/><circle cx="2314.0" cy="749.8" r="9.7"/><circle cx="2317.4" cy="754.0" r="9.7"/></g>
<g fill="#db272b"><circle cx="2353.0" cy="635.4" r="9.7"/><circle cx="2364.0" cy="635.4" r="9.7"/><circle cx="2355.0" cy="652.9" r="9.7"/><circle cx="2357.6" cy="681.0" r="9.7"/><circle cx="2353.2" cy="685.2" r="9.7"/><circle cx="2353.4" cy="689.4" r="9.7"/><circle cx="2366.3" cy="693.6" r="9.7"/><circle cx="2361.7" cy="697.8" r="9.7"/><circle cx="2354.5" cy="701.9" r="9.7"/><circle cx="2349.4" cy="706.1" r="9.7"/><circle cx="2358.0" cy="710.3" r="9.7"/><circle cx="2361.1" cy="714.5" r="9.7"/><circle cx="2356.6" cy="718.7" r="9.7"/><circle cx="2353.6" cy="722.9" r="9.7"/><circle cx="2361.0" cy="727.1" r="9.7"/><circle cx="2365.7" cy="731.2" r="9.7"/><circle cx="2353.1" cy="735.4" r="9.7"/><circle cx="2349.6" cy="739.6" r="9.7"/><circle cx="2355.1" cy="743.8" r="9.7"/><circle cx="2356.6" cy="748.0" r="9.7"/><circle cx="2361.3" cy="752.2" r="9.7"/><circle cx="2352.6" cy="756.4" r="9.7"/><circle cx="2363.3" cy="760.6" r="9.7"/><circle cx="2362.3" cy="764.8" r="9.7"/><circle cx="2358.1" cy="768.9" r="9.7"/><circle cx="2352.7" cy="773.1" r="9.7"/><circle cx="2366.5" cy="777.3" r="9.7"/><circle cx="2354.6" cy="781.5" r="9.7"/><circle cx="2363.8" cy="785.7" r="9.7"/><circle cx="2353.2" cy="789.9" r="9.7"/><circle cx="2353.0" cy="794.1" r="9.7"/><circle cx="2362.7" cy="798.2" r="9.7"/><circle cx="2354.3" cy="802.4" r="9.7"/><circle cx="2366.1" cy="806.6" r="9.7"/><circle cx="2357.9" cy="810.8" r="9.7"/><circle cx="2352.4" cy="815.0" r="9.7"/></g>
<line x1="2284.5" y1="660.3" x2="2339.5" y2="660.3" stroke="#0c0c0c" stroke-width="10" stroke-linecap="round"/>
<line x1="2331.9" y1="754.3" x2="2386.3" y2="754.3" stroke="#0c0c0c" stroke-width="10" stroke-linecap="round"/>
<text x="2329.3" y="515.8" text-anchor="middle" font-size="50" letter-spacing="1.3" stroke="#231f20" stroke-width="0.5">***</text>
<g fill="#36803f"><circle cx="2462.9" cy="373.2" r="9.7"/><circle cx="2459.9" cy="387.2" r="9.7"/><circle cx="2462.9" cy="406.0" r="9.7"/><circle cx="2468.9" cy="470.6" r="9.7"/><circle cx="2458.9" cy="515.2" r="9.7"/><circle cx="2462.9" cy="564.2" r="9.7"/><circle cx="2470.9" cy="593.9" r="9.7"/><circle cx="2462.9" cy="631.0" r="9.7"/><circle cx="2458.5" cy="655.0" r="9.7"/><circle cx="2461.6" cy="659.2" r="9.7"/><circle cx="2465.5" cy="663.4" r="9.7"/><circle cx="2470.1" cy="667.5" r="9.7"/><circle cx="2457.2" cy="671.7" r="9.7"/><circle cx="2461.2" cy="675.9" r="9.7"/><circle cx="2458.3" cy="680.1" r="9.7"/><circle cx="2470.5" cy="684.3" r="9.7"/><circle cx="2457.2" cy="688.5" r="9.7"/><circle cx="2455.7" cy="692.6" r="9.7"/><circle cx="2455.9" cy="696.8" r="9.7"/><circle cx="2461.2" cy="701.0" r="9.7"/><circle cx="2469.3" cy="705.2" r="9.7"/><circle cx="2469.0" cy="709.4" r="9.7"/><circle cx="2466.6" cy="713.5" r="9.7"/><circle cx="2470.9" cy="717.7" r="9.7"/><circle cx="2469.8" cy="721.9" r="9.7"/><circle cx="2460.2" cy="726.1" r="9.7"/><circle cx="2457.9" cy="730.3" r="9.7"/><circle cx="2469.9" cy="734.5" r="9.7"/><circle cx="2466.8" cy="738.6" r="9.7"/><circle cx="2455.4" cy="742.8" r="9.7"/><circle cx="2465.5" cy="747.0" r="9.7"/><circle cx="2461.0" cy="751.2" r="9.7"/><circle cx="2460.9" cy="755.4" r="9.7"/><circle cx="2460.2" cy="759.5" r="9.7"/><circle cx="2457.6" cy="763.7" r="9.7"/><circle cx="2454.9" cy="767.9" r="9.7"/><circle cx="2459.4" cy="772.1" r="9.7"/><circle cx="2460.5" cy="776.3" r="9.7"/><circle cx="2470.2" cy="780.5" r="9.7"/><circle cx="2456.9" cy="784.6" r="9.7"/><circle cx="2470.3" cy="788.8" r="9.7"/><circle cx="2458.2" cy="793.0" r="9.7"/></g>
<g fill="#db272b"><circle cx="2506.8" cy="714.0" r="9.7"/><circle cx="2511.8" cy="725.0" r="9.7"/><circle cx="2505.9" cy="751.0" r="9.7"/><circle cx="2515.2" cy="755.2" r="9.7"/><circle cx="2515.2" cy="759.5" r="9.7"/><circle cx="2507.4" cy="763.8" r="9.7"/><circle cx="2499.8" cy="768.0" r="9.7"/><circle cx="2508.3" cy="772.2" r="9.7"/><circle cx="2506.3" cy="776.5" r="9.7"/><circle cx="2517.2" cy="780.8" r="9.7"/><circle cx="2502.7" cy="785.0" r="9.7"/><circle cx="2506.1" cy="789.2" r="9.7"/><circle cx="2516.7" cy="793.5" r="9.7"/><circle cx="2499.4" cy="797.8" r="9.7"/><circle cx="2507.0" cy="802.0" r="9.7"/><circle cx="2515.0" cy="806.2" r="9.7"/><circle cx="2514.1" cy="810.5" r="9.7"/><circle cx="2499.6" cy="814.8" r="9.7"/><circle cx="2499.5" cy="819.0" r="9.7"/><circle cx="2500.1" cy="823.2" r="9.7"/><circle cx="2517.2" cy="827.5" r="9.7"/><circle cx="2503.9" cy="831.8" r="9.7"/><circle cx="2513.7" cy="836.0" r="9.7"/></g>
<line x1="2436.8" y1="664.7" x2="2491.2" y2="664.7" stroke="#0c0c0c" stroke-width="10" stroke-linecap="round"/>
<line x1="2481.8" y1="799.3" x2="2537.1" y2="799.3" stroke="#0c0c0c" stroke-width="10" stroke-linecap="round"/>
<text x="2471.0" y="339.6" text-anchor="middle" font-size="50" letter-spacing="1.3" stroke="#231f20" stroke-width="0.5">***</text>
<g fill="#36803f"><circle cx="2617.4" cy="419.3" r="9.7"/><circle cx="2616.4" cy="443.7" r="9.7"/><circle cx="2617.4" cy="521.6" r="9.7"/><circle cx="2624.4" cy="530.8" r="9.7"/><circle cx="2621.4" cy="550.5" r="9.7"/><circle cx="2612.4" cy="557.0" r="9.7"/><circle cx="2615.4" cy="597.2" r="9.7"/><circle cx="2626.4" cy="625.2" r="9.7"/><circle cx="2613.4" cy="635.7" r="9.7"/><circle cx="2616.4" cy="645.0" r="9.7"/><circle cx="2621.4" cy="652.8" r="9.7"/><circle cx="2612.4" cy="666.0" r="9.7"/><circle cx="2618.4" cy="685.6" r="9.7"/><circle cx="2620.4" cy="709.2" r="9.7"/><circle cx="2618.4" cy="718.4" r="9.7"/><circle cx="2611.4" cy="730.2" r="9.7"/><circle cx="2622.4" cy="732.8" r="9.7"/><circle cx="2615.4" cy="738.0" r="9.7"/><circle cx="2618.4" cy="760.3" r="9.7"/><circle cx="2612.4" cy="768.2" r="9.7"/><circle cx="2614.4" cy="794.4" r="9.7"/></g>
<g fill="#db272b"><circle cx="2665.8" cy="676.0" r="9.7"/><circle cx="2663.8" cy="703.0" r="9.7"/><circle cx="2669.0" cy="722.0" r="9.7"/><circle cx="2658.9" cy="726.2" r="9.7"/><circle cx="2657.7" cy="730.3" r="9.7"/><circle cx="2670.0" cy="734.5" r="9.7"/><circle cx="2663.9" cy="738.6" r="9.7"/><circle cx="2657.5" cy="742.8" r="9.7"/><circle cx="2665.7" cy="747.0" r="9.7"/><circle cx="2658.5" cy="751.1" r="9.7"/><circle cx="2657.8" cy="755.3" r="9.7"/><circle cx="2652.9" cy="759.4" r="9.7"/><circle cx="2666.4" cy="763.6" r="9.7"/><circle cx="2669.3" cy="767.8" r="9.7"/><circle cx="2664.2" cy="771.9" r="9.7"/><circle cx="2669.8" cy="776.1" r="9.7"/><circle cx="2653.2" cy="780.2" r="9.7"/><circle cx="2657.0" cy="784.4" r="9.7"/><circle cx="2661.4" cy="788.6" r="9.7"/><circle cx="2670.0" cy="792.7" r="9.7"/><circle cx="2670.0" cy="796.9" r="9.7"/><circle cx="2659.8" cy="801.0" r="9.7"/><circle cx="2657.3" cy="805.2" r="9.7"/><circle cx="2660.5" cy="809.4" r="9.7"/><circle cx="2661.7" cy="813.5" r="9.7"/><circle cx="2669.5" cy="817.7" r="9.7"/><circle cx="2656.1" cy="821.8" r="9.7"/><circle cx="2667.2" cy="826.0" r="9.7"/></g>
<line x1="2588.5" y1="661.4" x2="2643.4" y2="661.4" stroke="#0c0c0c" stroke-width="10" stroke-linecap="round"/>
<line x1="2634.8" y1="777.4" x2="2690.0" y2="777.4" stroke="#0c0c0c" stroke-width="10" stroke-linecap="round"/>
<text x="2638.3" y="407.4" text-anchor="middle" font-size="50" letter-spacing="1.3" stroke="#231f20" stroke-width="0.5">***</text>
<rect x="566.9" y="1472.7" width="902.5000000000001" height="869.3" fill="none" stroke="#231f20" stroke-width="3"/>
<line x1="566.9" y1="2301.5" x2="579.9" y2="2301.5" stroke="#231f20" stroke-width="3"/>
<text x="544.5" y="2316.1" text-anchor="end" font-size="51.8">0</text>
<line x1="566.9" y1="2093.8" x2="579.9" y2="2093.8" stroke="#231f20" stroke-width="3"/>
<text x="544.5" y="2108.4" text-anchor="end" font-size="51.8">5</text>
<line x1="566.9" y1="1886.2" x2="579.9" y2="1886.2" stroke="#231f20" stroke-width="3"/>
<text x="542.5" y="1900.8" text-anchor="end" font-size="51.8" letter-spacing="-2">10</text>
<line x1="566.9" y1="1679.6" x2="579.9" y2="1679.6" stroke="#231f20" stroke-width="3"/>
<text x="542.5" y="1694.2" text-anchor="end" font-size="51.8" letter-spacing="-2">15</text>
<text x="542.5" y="1487.3" text-anchor="end" font-size="51.8" letter-spacing="-2">20</text>
<line x1="640.2" y1="2342.0" x2="640.2" y2="2329.0" stroke="#231f20" stroke-width="3"/>
<line x1="791.6" y1="2342.0" x2="791.6" y2="2329.0" stroke="#231f20" stroke-width="3"/>
<line x1="943.0" y1="2342.0" x2="943.0" y2="2329.0" stroke="#231f20" stroke-width="3"/>
<line x1="1094.4" y1="2342.0" x2="1094.4" y2="2329.0" stroke="#231f20" stroke-width="3"/>
<line x1="1245.8" y1="2342.0" x2="1245.8" y2="2329.0" stroke="#231f20" stroke-width="3"/>
<line x1="1397.2" y1="2342.0" x2="1397.2" y2="2329.0" stroke="#231f20" stroke-width="3"/>
<text x="437.0" y="1487.0" text-anchor="start" font-size="51.8">b</text>
<text x="464.0" y="1901.8" text-anchor="middle" font-size="51.8" transform="rotate(-90 464.0 1901.8)">Relative peak area</text>
<text x="672.2" y="2385.0" text-anchor="end" font-size="51.8" transform="rotate(-45 672.2 2385.0)">Cervobol ethanolamide</text>
<text x="823.6" y="2385.0" text-anchor="end" font-size="51.8" transform="rotate(-45 823.6 2385.0)">Tetracosahexaenoic acid</text>
<text x="975.0" y="2385.0" text-anchor="end" font-size="51.8" transform="rotate(-45 975.0 2385.0)">7, 12-Dihydroxycholanoic acid</text>
<text x="1126.4" y="2385.0" text-anchor="end" font-size="51.8" transform="rotate(-45 1126.4 2385.0)">Chenodeoxycholic acid</text>
<text x="1277.8" y="2385.0" text-anchor="end" font-size="51.8" transform="rotate(-45 1277.8 2385.0)">Cholic acid</text>
<text x="1429.2" y="2385.0" text-anchor="end" font-size="51.8" transform="rotate(-45 1429.2 2385.0)">Deoxycholic acid</text>
<circle cx="631.2" cy="1524.9" r="19.5" fill="#36803f"/><circle cx="631.2" cy="1590.8" r="19.5" fill="#db272b"/>
<text x="671.8" y="1538.6" text-anchor="start" font-size="51.8">Control</text>
<text x="671.8" y="1605.7" text-anchor="start" font-size="51.8">Diabetes</text>
<g fill="#36803f"><circle cx="614.0" cy="2004.8" r="9.7"/><circle cx="618.0" cy="2138.0" r="9.7"/><circle cx="615.0" cy="2189.6" r="9.7"/><circle cx="609.0" cy="2205.5" r="9.7"/><circle cx="616.0" cy="2215.8" r="9.7"/><circle cx="615.0" cy="2225.0" r="9.7"/><circle cx="615.0" cy="2241.0" r="9.7"/><circle cx="617.9" cy="2264.0" r="9.7"/><circle cx="618.6" cy="2268.0" r="9.7"/><circle cx="618.2" cy="2272.0" r="9.7"/><circle cx="616.9" cy="2276.0" r="9.7"/><circle cx="614.6" cy="2280.0" r="9.7"/><circle cx="614.6" cy="2284.0" r="9.7"/><circle cx="615.7" cy="2286.0" r="9.7"/><circle cx="621.2" cy="2288.2" r="9.7"/><circle cx="612.0" cy="2290.5" r="9.7"/><circle cx="613.6" cy="2292.8" r="9.7"/><circle cx="620.8" cy="2295.0" r="9.7"/><circle cx="614.2" cy="2297.2" r="9.7"/><circle cx="611.8" cy="2299.5" r="9.7"/><circle cx="611.4" cy="2301.8" r="9.7"/><circle cx="618.2" cy="2304.0" r="9.7"/></g>
<g fill="#db272b"><circle cx="659.5" cy="2043.6" r="9.7"/><circle cx="666.5" cy="2057.0" r="9.7"/><circle cx="666.5" cy="2067.5" r="9.7"/><circle cx="660.5" cy="2158.8" r="9.7"/><circle cx="659.4" cy="2096.0" r="9.7"/><circle cx="667.3" cy="2101.1" r="9.7"/><circle cx="666.1" cy="2106.2" r="9.7"/><circle cx="667.4" cy="2111.3" r="9.7"/><circle cx="658.7" cy="2116.4" r="9.7"/><circle cx="656.5" cy="2121.6" r="9.7"/><circle cx="656.7" cy="2126.7" r="9.7"/><circle cx="661.5" cy="2131.8" r="9.7"/><circle cx="664.0" cy="2136.9" r="9.7"/><circle cx="660.9" cy="2142.0" r="9.7"/><circle cx="657.2" cy="2180.5" r="9.7"/><circle cx="660.2" cy="2185.0" r="9.7"/><circle cx="663.4" cy="2189.5" r="9.7"/><circle cx="664.3" cy="2194.0" r="9.7"/><circle cx="665.5" cy="2198.5" r="9.7"/><circle cx="667.1" cy="2203.0" r="9.7"/><circle cx="664.8" cy="2233.0" r="9.7"/><circle cx="660.5" cy="2240.0" r="9.7"/><circle cx="666.2" cy="2247.0" r="9.7"/><circle cx="665.3" cy="2260.0" r="9.7"/><circle cx="666.9" cy="2266.7" r="9.7"/><circle cx="665.7" cy="2273.3" r="9.7"/><circle cx="667.9" cy="2280.0" r="9.7"/><circle cx="657.0" cy="2288.0" r="9.7"/><circle cx="657.7" cy="2290.4" r="9.7"/><circle cx="657.7" cy="2292.9" r="9.7"/><circle cx="656.3" cy="2295.3" r="9.7"/><circle cx="667.3" cy="2297.7" r="9.7"/><circle cx="662.7" cy="2300.1" r="9.7"/><circle cx="658.9" cy="2302.6" r="9.7"/><circle cx="659.9" cy="2305.0" r="9.7"/></g>
<line x1="590.7" y1="2261.9" x2="644.5" y2="2261.9" stroke="#0c0c0c" stroke-width="10" stroke-linecap="round"/>
<line x1="636.4" y1="2213.5" x2="691.3" y2="2213.5" stroke="#0c0c0c" stroke-width="10" stroke-linecap="round"/>
<text x="649.6" y="1991.8" text-anchor="middle" font-size="50" letter-spacing="1.3" stroke="#231f20" stroke-width="0.5">*</text>
<g fill="#36803f"><circle cx="774.6" cy="2170.2" r="9.7"/><circle cx="765.6" cy="2187.3" r="9.7"/><circle cx="771.5" cy="2224.0" r="9.7"/><circle cx="767.7" cy="2228.3" r="9.7"/><circle cx="765.5" cy="2232.7" r="9.7"/><circle cx="770.1" cy="2237.0" r="9.7"/><circle cx="768.8" cy="2241.3" r="9.7"/><circle cx="771.5" cy="2245.7" r="9.7"/><circle cx="764.4" cy="2250.0" r="9.7"/><circle cx="768.2" cy="2250.0" r="9.7"/><circle cx="773.1" cy="2252.5" r="9.7"/><circle cx="773.4" cy="2255.0" r="9.7"/><circle cx="774.4" cy="2257.5" r="9.7"/><circle cx="762.2" cy="2260.0" r="9.7"/><circle cx="765.7" cy="2262.5" r="9.7"/><circle cx="763.3" cy="2265.0" r="9.7"/><circle cx="764.3" cy="2267.5" r="9.7"/><circle cx="775.2" cy="2270.0" r="9.7"/><circle cx="769.8" cy="2272.5" r="9.7"/><circle cx="774.6" cy="2275.0" r="9.7"/><circle cx="766.8" cy="2277.5" r="9.7"/><circle cx="773.7" cy="2280.0" r="9.7"/><circle cx="767.9" cy="2282.5" r="9.7"/><circle cx="765.2" cy="2285.0" r="9.7"/><circle cx="772.5" cy="2287.5" r="9.7"/><circle cx="774.8" cy="2290.0" r="9.7"/><circle cx="763.3" cy="2290.0" r="9.7"/><circle cx="768.7" cy="2293.0" r="9.7"/><circle cx="768.9" cy="2296.0" r="9.7"/><circle cx="764.5" cy="2299.0" r="9.7"/><circle cx="766.2" cy="2302.0" r="9.7"/><circle cx="763.7" cy="2305.0" r="9.7"/></g>
<g fill="#db272b"><circle cx="812.4" cy="2078.9" r="9.7"/><circle cx="810.6" cy="2135.0" r="9.7"/><circle cx="811.2" cy="2138.5" r="9.7"/><circle cx="815.7" cy="2142.0" r="9.7"/><circle cx="816.4" cy="2145.5" r="9.7"/><circle cx="810.5" cy="2149.0" r="9.7"/><circle cx="808.0" cy="2152.6" r="9.7"/><circle cx="812.2" cy="2156.1" r="9.7"/><circle cx="816.7" cy="2159.6" r="9.7"/><circle cx="810.3" cy="2163.1" r="9.7"/><circle cx="812.0" cy="2166.6" r="9.7"/><circle cx="810.5" cy="2170.1" r="9.7"/><circle cx="818.2" cy="2173.6" r="9.7"/><circle cx="815.0" cy="2177.1" r="9.7"/><circle cx="808.7" cy="2180.6" r="9.7"/><circle cx="809.2" cy="2184.1" r="9.7"/><circle cx="813.0" cy="2187.7" r="9.7"/><circle cx="815.1" cy="2191.2" r="9.7"/><circle cx="816.2" cy="2194.7" r="9.7"/><circle cx="809.1" cy="2198.2" r="9.7"/><circle cx="810.0" cy="2201.7" r="9.7"/><circle cx="816.9" cy="2205.2" r="9.7"/><circle cx="813.2" cy="2208.7" r="9.7"/><circle cx="811.6" cy="2212.2" r="9.7"/><circle cx="811.9" cy="2215.7" r="9.7"/><circle cx="820.3" cy="2219.2" r="9.7"/><circle cx="812.0" cy="2222.8" r="9.7"/><circle cx="815.3" cy="2226.3" r="9.7"/><circle cx="812.5" cy="2229.8" r="9.7"/><circle cx="813.3" cy="2233.3" r="9.7"/><circle cx="819.1" cy="2236.8" r="9.7"/><circle cx="820.9" cy="2240.3" r="9.7"/><circle cx="812.6" cy="2243.8" r="9.7"/><circle cx="810.5" cy="2247.3" r="9.7"/><circle cx="817.4" cy="2250.8" r="9.7"/><circle cx="810.5" cy="2254.3" r="9.7"/><circle cx="808.0" cy="2257.9" r="9.7"/><circle cx="819.6" cy="2261.4" r="9.7"/><circle cx="813.4" cy="2264.9" r="9.7"/><circle cx="818.6" cy="2268.4" r="9.7"/><circle cx="813.2" cy="2271.9" r="9.7"/><circle cx="819.4" cy="2275.4" r="9.7"/><circle cx="813.9" cy="2278.9" r="9.7"/><circle cx="810.0" cy="2282.4" r="9.7"/><circle cx="808.1" cy="2285.9" r="9.7"/><circle cx="815.1" cy="2289.4" r="9.7"/><circle cx="816.2" cy="2293.0" r="9.7"/><circle cx="819.7" cy="2296.5" r="9.7"/><circle cx="809.1" cy="2300.0" r="9.7"/><circle cx="816.0" cy="2303.5" r="9.7"/><circle cx="812.7" cy="2307.0" r="9.7"/></g>
<line x1="742.5" y1="2261.9" x2="796.9" y2="2261.9" stroke="#0c0c0c" stroke-width="10" stroke-linecap="round"/>
<line x1="788.1" y1="2234.0" x2="842.5" y2="2234.0" stroke="#0c0c0c" stroke-width="10" stroke-linecap="round"/>
<text x="802.5" y="2064.8" text-anchor="middle" font-size="50" letter-spacing="1.3" stroke="#231f20" stroke-width="0.5">*</text>
<g fill="#36803f"><circle cx="922.5" cy="2172.5" r="9.7"/><circle cx="918.5" cy="2188.4" r="9.7"/><circle cx="920.5" cy="2222.0" r="9.7"/><circle cx="917.7" cy="2226.0" r="9.7"/><circle cx="918.8" cy="2230.0" r="9.7"/><circle cx="920.7" cy="2234.0" r="9.7"/><circle cx="923.9" cy="2238.0" r="9.7"/><circle cx="917.4" cy="2242.0" r="9.7"/><circle cx="920.4" cy="2246.0" r="9.7"/><circle cx="922.9" cy="2250.0" r="9.7"/><circle cx="928.0" cy="2250.0" r="9.7"/><circle cx="915.7" cy="2252.9" r="9.7"/><circle cx="914.5" cy="2255.8" r="9.7"/><circle cx="927.6" cy="2258.8" r="9.7"/><circle cx="928.1" cy="2261.7" r="9.7"/><circle cx="920.2" cy="2264.6" r="9.7"/><circle cx="913.4" cy="2267.5" r="9.7"/><circle cx="927.3" cy="2270.4" r="9.7"/><circle cx="918.7" cy="2273.3" r="9.7"/><circle cx="927.0" cy="2276.2" r="9.7"/><circle cx="922.4" cy="2279.2" r="9.7"/><circle cx="925.7" cy="2282.1" r="9.7"/><circle cx="915.1" cy="2285.0" r="9.7"/><circle cx="923.9" cy="2285.0" r="9.7"/><circle cx="917.2" cy="2287.9" r="9.7"/><circle cx="919.4" cy="2290.7" r="9.7"/><circle cx="924.7" cy="2293.6" r="9.7"/><circle cx="924.5" cy="2296.4" r="9.7"/><circle cx="916.7" cy="2299.3" r="9.7"/><circle cx="917.1" cy="2302.1" r="9.7"/><circle cx="919.3" cy="2305.0" r="9.7"/></g>
<g fill="#db272b"><circle cx="966.4" cy="2165.6" r="9.7"/><circle cx="968.6" cy="2122.0" r="9.7"/><circle cx="967.4" cy="2126.3" r="9.7"/><circle cx="965.0" cy="2130.7" r="9.7"/><circle cx="966.1" cy="2135.0" r="9.7"/><circle cx="970.4" cy="2139.3" r="9.7"/><circle cx="972.0" cy="2143.7" r="9.7"/><circle cx="964.3" cy="2148.0" r="9.7"/><circle cx="969.1" cy="2190.0" r="9.7"/><circle cx="971.2" cy="2193.5" r="9.7"/><circle cx="963.3" cy="2197.1" r="9.7"/><circle cx="972.1" cy="2200.6" r="9.7"/><circle cx="964.2" cy="2204.2" r="9.7"/><circle cx="969.5" cy="2207.7" r="9.7"/><circle cx="969.0" cy="2211.3" r="9.7"/><circle cx="969.8" cy="2214.8" r="9.7"/><circle cx="966.3" cy="2218.4" r="9.7"/><circle cx="967.5" cy="2221.9" r="9.7"/><circle cx="969.3" cy="2225.5" r="9.7"/><circle cx="967.6" cy="2229.0" r="9.7"/><circle cx="970.1" cy="2232.5" r="9.7"/><circle cx="967.8" cy="2236.1" r="9.7"/><circle cx="967.7" cy="2239.6" r="9.7"/><circle cx="963.2" cy="2243.2" r="9.7"/><circle cx="969.7" cy="2246.7" r="9.7"/><circle cx="968.3" cy="2250.3" r="9.7"/><circle cx="965.5" cy="2253.8" r="9.7"/><circle cx="971.3" cy="2257.4" r="9.7"/><circle cx="971.5" cy="2260.9" r="9.7"/><circle cx="967.9" cy="2264.5" r="9.7"/><circle cx="964.9" cy="2268.0" r="9.7"/><circle cx="968.1" cy="2271.5" r="9.7"/><circle cx="964.1" cy="2275.1" r="9.7"/><circle cx="964.3" cy="2278.6" r="9.7"/><circle cx="967.6" cy="2282.2" r="9.7"/><circle cx="963.9" cy="2285.7" r="9.7"/><circle cx="967.8" cy="2289.3" r="9.7"/><circle cx="968.5" cy="2292.8" r="9.7"/><circle cx="963.3" cy="2296.4" r="9.7"/><circle cx="969.9" cy="2299.9" r="9.7"/><circle cx="963.8" cy="2303.5" r="9.7"/><circle cx="971.0" cy="2307.0" r="9.7"/></g>
<line x1="893.1" y1="2261.9" x2="948.0" y2="2261.9" stroke="#0c0c0c" stroke-width="10" stroke-linecap="round"/>
<line x1="940.5" y1="2242.5" x2="994.7" y2="2242.5" stroke="#0c0c0c" stroke-width="10" stroke-linecap="round"/>
<g fill="#36803f"><circle cx="1076.8" cy="2096.0" r="9.7"/><circle cx="1070.8" cy="2107.4" r="9.7"/><circle cx="1075.8" cy="2130.3" r="9.7"/><circle cx="1075.8" cy="2199.9" r="9.7"/><circle cx="1068.8" cy="2205.6" r="9.7"/><circle cx="1077.8" cy="2207.8" r="9.7"/><circle cx="1076.0" cy="2252.0" r="9.7"/><circle cx="1073.9" cy="2256.7" r="9.7"/><circle cx="1070.2" cy="2261.4" r="9.7"/><circle cx="1073.8" cy="2266.1" r="9.7"/><circle cx="1072.8" cy="2270.9" r="9.7"/><circle cx="1077.4" cy="2275.6" r="9.7"/><circle cx="1070.9" cy="2280.3" r="9.7"/><circle cx="1076.7" cy="2285.0" r="9.7"/><circle cx="1079.2" cy="2286.0" r="9.7"/><circle cx="1075.8" cy="2289.0" r="9.7"/><circle cx="1076.9" cy="2292.0" r="9.7"/><circle cx="1068.8" cy="2295.0" r="9.7"/><circle cx="1079.1" cy="2298.0" r="9.7"/><circle cx="1072.7" cy="2301.0" r="9.7"/><circle cx="1078.7" cy="2304.0" r="9.7"/></g>
<g fill="#db272b"><circle cx="1114.5" cy="1525.5" r="9.7"/><circle cx="1118.5" cy="1644.5" r="9.7"/><circle cx="1118.5" cy="1834.4" r="9.7"/><circle cx="1113.0" cy="1843.8" r="9.7"/><circle cx="1113.5" cy="1863.8" r="9.7"/><circle cx="1117.0" cy="1918.8" r="9.7"/><circle cx="1111.0" cy="2027.6" r="9.7"/><circle cx="1115.0" cy="2050.4" r="9.7"/><circle cx="1126.0" cy="2069.8" r="9.7"/><circle cx="1115.0" cy="2102.9" r="9.7"/><circle cx="1119.0" cy="2109.7" r="9.7"/><circle cx="1124.0" cy="2181.6" r="9.7"/><circle cx="1119.0" cy="2207.8" r="9.7"/><circle cx="1119.0" cy="2221.5" r="9.7"/><circle cx="1121.0" cy="2248.9" r="9.7"/><circle cx="1110.0" cy="2258.0" r="9.7"/><circle cx="1120.0" cy="2267.2" r="9.7"/><circle cx="1111.0" cy="2276.3" r="9.7"/><circle cx="1126.0" cy="2283.0" r="9.7"/><circle cx="1113.0" cy="2292.3" r="9.7"/><circle cx="1125.0" cy="2299.0" r="9.7"/><circle cx="1118.0" cy="2306.0" r="9.7"/></g>
<line x1="1045.0" y1="2261.9" x2="1097.6" y2="2261.9" stroke="#0c0c0c" stroke-width="10" stroke-linecap="round"/>
<line x1="1090.7" y1="2129.1" x2="1146.7" y2="2129.1" stroke="#0c0c0c" stroke-width="10" stroke-linecap="round"/>
<text x="1120.2" y="1612.8" text-anchor="middle" font-size="50" letter-spacing="1.3" stroke="#231f20" stroke-width="0.5">**</text>
<g fill="#36803f"><circle cx="1222.8" cy="1961.4" r="9.7"/><circle cx="1225.8" cy="2106.8" r="9.7"/><circle cx="1225.8" cy="2144.0" r="9.7"/><circle cx="1223.8" cy="2191.9" r="9.7"/><circle cx="1222.8" cy="2226.8" r="9.7"/><circle cx="1226.8" cy="2253.5" r="9.7"/><circle cx="1226.3" cy="2264.0" r="9.7"/><circle cx="1221.8" cy="2268.8" r="9.7"/><circle cx="1225.5" cy="2273.6" r="9.7"/><circle cx="1226.4" cy="2278.4" r="9.7"/><circle cx="1221.2" cy="2283.2" r="9.7"/><circle cx="1222.9" cy="2288.0" r="9.7"/><circle cx="1227.9" cy="2290.0" r="9.7"/><circle cx="1221.9" cy="2293.0" r="9.7"/><circle cx="1229.3" cy="2296.0" r="9.7"/><circle cx="1223.0" cy="2299.0" r="9.7"/><circle cx="1228.5" cy="2302.0" r="9.7"/><circle cx="1221.7" cy="2305.0" r="9.7"/></g>
<g fill="#db272b"><circle cx="1269.9" cy="1743.0" r="9.7"/><circle cx="1269.9" cy="1787.2" r="9.7"/><circle cx="1266.9" cy="1940.9" r="9.7"/><circle cx="1275.9" cy="1987.6" r="9.7"/><circle cx="1269.9" cy="2045.8" r="9.7"/><circle cx="1271.9" cy="2057.2" r="9.7"/><circle cx="1264.9" cy="2070.9" r="9.7"/><circle cx="1272.9" cy="2082.3" r="9.7"/><circle cx="1269.9" cy="2096.0" r="9.7"/><circle cx="1270.9" cy="2115.4" r="9.7"/><circle cx="1268.9" cy="2189.6" r="9.7"/><circle cx="1269.9" cy="2217.0" r="9.7"/><circle cx="1264.9" cy="2235.2" r="9.7"/><circle cx="1271.9" cy="2244.3" r="9.7"/><circle cx="1266.9" cy="2255.7" r="9.7"/><circle cx="1267.9" cy="2280.8" r="9.7"/><circle cx="1263.9" cy="2290.0" r="9.7"/><circle cx="1277.9" cy="2299.0" r="9.7"/><circle cx="1263.9" cy="2305.0" r="9.7"/><circle cx="1273.9" cy="2306.0" r="9.7"/></g>
<line x1="1196.8" y1="2261.9" x2="1251.7" y2="2261.9" stroke="#0c0c0c" stroke-width="10" stroke-linecap="round"/>
<line x1="1242.4" y1="2176.6" x2="1298.4" y2="2176.6" stroke="#0c0c0c" stroke-width="10" stroke-linecap="round"/>
<text x="1261.7" y="1727.2" text-anchor="middle" font-size="50" letter-spacing="1.3" stroke="#231f20" stroke-width="0.5">**</text>
<g fill="#36803f"><circle cx="1382.1" cy="2178.2" r="9.7"/><circle cx="1378.1" cy="2214.7" r="9.7"/><circle cx="1374.1" cy="2235.0" r="9.7"/><circle cx="1378.3" cy="2238.3" r="9.7"/><circle cx="1371.2" cy="2241.7" r="9.7"/><circle cx="1371.7" cy="2245.0" r="9.7"/><circle cx="1374.2" cy="2248.3" r="9.7"/><circle cx="1372.3" cy="2251.7" r="9.7"/><circle cx="1369.5" cy="2255.0" r="9.7"/><circle cx="1370.9" cy="2258.3" r="9.7"/><circle cx="1370.7" cy="2261.7" r="9.7"/><circle cx="1378.5" cy="2265.0" r="9.7"/><circle cx="1380.0" cy="2262.0" r="9.7"/><circle cx="1383.4" cy="2264.4" r="9.7"/><circle cx="1371.8" cy="2266.9" r="9.7"/><circle cx="1381.7" cy="2269.3" r="9.7"/><circle cx="1370.9" cy="2271.8" r="9.7"/><circle cx="1377.6" cy="2274.2" r="9.7"/><circle cx="1379.3" cy="2276.7" r="9.7"/><circle cx="1374.9" cy="2279.1" r="9.7"/><circle cx="1383.1" cy="2281.6" r="9.7"/><circle cx="1378.0" cy="2284.0" r="9.7"/><circle cx="1378.4" cy="2286.4" r="9.7"/><circle cx="1383.2" cy="2288.9" r="9.7"/><circle cx="1370.8" cy="2291.3" r="9.7"/><circle cx="1385.0" cy="2293.8" r="9.7"/><circle cx="1379.2" cy="2296.2" r="9.7"/><circle cx="1375.4" cy="2298.7" r="9.7"/><circle cx="1381.9" cy="2301.1" r="9.7"/><circle cx="1373.3" cy="2303.6" r="9.7"/><circle cx="1384.9" cy="2306.0" r="9.7"/></g>
<g fill="#db272b"><circle cx="1422.5" cy="2133.0" r="9.7"/><circle cx="1419.9" cy="2136.4" r="9.7"/><circle cx="1424.8" cy="2139.8" r="9.7"/><circle cx="1420.9" cy="2143.2" r="9.7"/><circle cx="1417.7" cy="2146.6" r="9.7"/><circle cx="1424.5" cy="2150.0" r="9.7"/><circle cx="1416.2" cy="2153.4" r="9.7"/><circle cx="1425.4" cy="2156.8" r="9.7"/><circle cx="1418.6" cy="2160.2" r="9.7"/><circle cx="1423.3" cy="2163.6" r="9.7"/><circle cx="1427.4" cy="2167.0" r="9.7"/><circle cx="1422.6" cy="2170.4" r="9.7"/><circle cx="1423.6" cy="2173.8" r="9.7"/><circle cx="1419.4" cy="2177.2" r="9.7"/><circle cx="1415.6" cy="2180.6" r="9.7"/><circle cx="1416.0" cy="2184.0" r="9.7"/><circle cx="1417.4" cy="2201.0" r="9.7"/><circle cx="1423.0" cy="2204.2" r="9.7"/><circle cx="1420.8" cy="2207.4" r="9.7"/><circle cx="1421.8" cy="2210.6" r="9.7"/><circle cx="1426.3" cy="2213.8" r="9.7"/><circle cx="1417.2" cy="2217.1" r="9.7"/><circle cx="1418.3" cy="2220.3" r="9.7"/><circle cx="1423.4" cy="2223.5" r="9.7"/><circle cx="1415.9" cy="2226.7" r="9.7"/><circle cx="1415.6" cy="2229.9" r="9.7"/><circle cx="1419.9" cy="2233.1" r="9.7"/><circle cx="1416.9" cy="2236.3" r="9.7"/><circle cx="1419.9" cy="2239.5" r="9.7"/><circle cx="1418.3" cy="2242.8" r="9.7"/><circle cx="1422.6" cy="2246.0" r="9.7"/><circle cx="1422.7" cy="2249.2" r="9.7"/><circle cx="1418.1" cy="2252.4" r="9.7"/><circle cx="1423.1" cy="2255.6" r="9.7"/><circle cx="1421.3" cy="2258.8" r="9.7"/><circle cx="1417.2" cy="2262.0" r="9.7"/><circle cx="1426.8" cy="2265.2" r="9.7"/><circle cx="1418.5" cy="2268.5" r="9.7"/><circle cx="1417.4" cy="2271.7" r="9.7"/><circle cx="1416.7" cy="2274.9" r="9.7"/><circle cx="1423.3" cy="2278.1" r="9.7"/><circle cx="1426.1" cy="2281.3" r="9.7"/><circle cx="1425.0" cy="2284.5" r="9.7"/><circle cx="1420.4" cy="2287.7" r="9.7"/><circle cx="1418.8" cy="2290.9" r="9.7"/><circle cx="1415.7" cy="2294.2" r="9.7"/><circle cx="1423.3" cy="2297.4" r="9.7"/><circle cx="1422.3" cy="2300.6" r="9.7"/><circle cx="1419.8" cy="2303.8" r="9.7"/><circle cx="1423.3" cy="2307.0" r="9.7"/></g>
<line x1="1349.7" y1="2261.9" x2="1403.4" y2="2261.9" stroke="#0c0c0c" stroke-width="10" stroke-linecap="round"/>
<line x1="1394.1" y1="2236.4" x2="1449.0" y2="2236.4" stroke="#0c0c0c" stroke-width="10" stroke-linecap="round"/>
<text x="1402.2" y="2129.8" text-anchor="middle" font-size="50" letter-spacing="1.3" stroke="#231f20" stroke-width="0.5">*</text>
<text x="854.3" y="2086.9" font-size="51.8"><tspan font-style="italic">P</tspan>=0.075</text>
<line x1="1698.6" y1="1556.5" x2="1698.6" y2="2339.6" stroke="#231f20" stroke-width="3"/>
<line x1="1697.1" y1="2338.1" x2="2845.4" y2="2338.1" stroke="#231f20" stroke-width="3"/>
<text x="1680.0" y="2350.3" text-anchor="end" font-size="51.8">0</text>
<line x1="1698.6" y1="2143.1" x2="1712.6" y2="2143.1" stroke="#231f20" stroke-width="3"/>
<text x="1680.0" y="2154.7" text-anchor="end" font-size="51.8">2</text>
<line x1="1698.6" y1="1948.1" x2="1712.6" y2="1948.1" stroke="#231f20" stroke-width="3"/>
<text x="1680.0" y="1960.7" text-anchor="end" font-size="51.8">4</text>
<line x1="1698.6" y1="1753.1" x2="1712.6" y2="1753.1" stroke="#231f20" stroke-width="3"/>
<text x="1680.0" y="1766.2" text-anchor="end" font-size="51.8">6</text>
<line x1="1698.6" y1="1558.1" x2="1712.6" y2="1558.1" stroke="#231f20" stroke-width="3"/>
<text x="1680.0" y="1573.4" text-anchor="end" font-size="51.8">8</text>
<line x1="2075.5" y1="2338.1" x2="2075.5" y2="2328.1" stroke="#231f20" stroke-width="2.5"/>
<line x1="2464.6" y1="2338.1" x2="2464.6" y2="2328.1" stroke="#231f20" stroke-width="2.5"/>
<text x="1603.5" y="1572.8" text-anchor="start" font-size="51.8">c</text>
<text x="1628.9" y="1927.0" text-anchor="middle" font-size="51.8" transform="rotate(-90 1628.9 1927.0)">Relative peak area</text>
<path d="M1771.8 2338.1L1771.8 2241.9L1882.5 2241.9L1882.5 2338.1" fill="#36803f" stroke="#141414" stroke-width="7"/>
<line x1="1827.4" y1="2239.4" x2="1827.4" y2="2085.2" stroke="#141414" stroke-width="8"/>
<line x1="1806.6" y1="2085.2" x2="1848.2" y2="2085.2" stroke="#141414" stroke-width="8"/>
<path d="M1891.8 2338.1L1891.8 2084.2L2002.5 2084.2L2002.5 2338.1" fill="#db272b" stroke="#141414" stroke-width="7"/>
<line x1="1948.6" y1="2081.7" x2="1948.6" y2="1769.6" stroke="#141414" stroke-width="8"/>
<line x1="1927.8" y1="1769.6" x2="1969.4" y2="1769.6" stroke="#141414" stroke-width="8"/>
<path d="M2156.2 2338.1L2156.2 2242.4L2264.3 2242.4L2264.3 2338.1" fill="#36803f" stroke="#141414" stroke-width="7"/>
<line x1="2211.3" y1="2239.9" x2="2211.3" y2="2106.4" stroke="#141414" stroke-width="8"/>
<line x1="2190.5" y1="2106.4" x2="2232.1" y2="2106.4" stroke="#141414" stroke-width="8"/>
<path d="M2276.7 2338.1L2276.7 2231.1L2385.9 2231.1L2385.9 2338.1" fill="#db272b" stroke="#141414" stroke-width="7"/>
<line x1="2331.9" y1="2228.6" x2="2331.9" y2="2029.2" stroke="#141414" stroke-width="8"/>
<line x1="2311.1" y1="2029.2" x2="2352.7" y2="2029.2" stroke="#141414" stroke-width="8"/>
<path d="M2540.6 2338.1L2540.6 2242.4L2648.7 2242.4L2648.7 2338.1" fill="#36803f" stroke="#141414" stroke-width="7"/>
<line x1="2595.5" y1="2239.9" x2="2595.5" y2="2112.4" stroke="#141414" stroke-width="8"/>
<line x1="2574.7" y1="2112.4" x2="2616.3" y2="2112.4" stroke="#141414" stroke-width="8"/>
<path d="M2661.1 2338.1L2661.1 2152.0L2770.3 2152.0L2770.3 2338.1" fill="#db272b" stroke="#141414" stroke-width="7"/>
<line x1="2715.5" y1="2149.5" x2="2715.5" y2="1947.6" stroke="#141414" stroke-width="8"/>
<line x1="2694.7" y1="1947.6" x2="2736.3" y2="1947.6" stroke="#141414" stroke-width="8"/>
<line x1="1697.1" y1="2338.1" x2="2845.4" y2="2338.1" stroke="#231f20" stroke-width="3"/>
<text x="1950.7" y="1755.0" text-anchor="middle" font-size="50" letter-spacing="1.3" stroke="#231f20" stroke-width="0.5">**</text>
<text x="2714.7" y="1934.5" text-anchor="middle" font-size="50" letter-spacing="1.3" stroke="#231f20" stroke-width="0.5">*</text>
<text x="2332.3" y="2009.8" text-anchor="middle" font-size="51.8">n.s.</text>
<text x="1923.0" y="2382.0" text-anchor="end" font-size="51.8" transform="rotate(-45 1923.0 2382.0)">Chenodeoxycholic acid</text>
<text x="2307.0" y="2382.0" text-anchor="end" font-size="51.8" transform="rotate(-45 2307.0 2382.0)">Cholic acid</text>
<text x="2690.5" y="2382.0" text-anchor="end" font-size="51.8" transform="rotate(-45 2690.5 2382.0)">Deoxycholic acid</text>
<rect x="2499.5" y="1580.6" width="119.6" height="58" fill="#36803f" stroke="#141414" stroke-width="7"/>
<rect x="2499.5" y="1663.5" width="119.6" height="58.5" fill="#db272b" stroke="#141414" stroke-width="7"/>
<text x="2649.0" y="1622.5" text-anchor="start" font-size="51.8">Control</text>
<text x="2649.0" y="1704.8" text-anchor="start" font-size="51.8">Diabetes</text>
</svg>
</body></html>
